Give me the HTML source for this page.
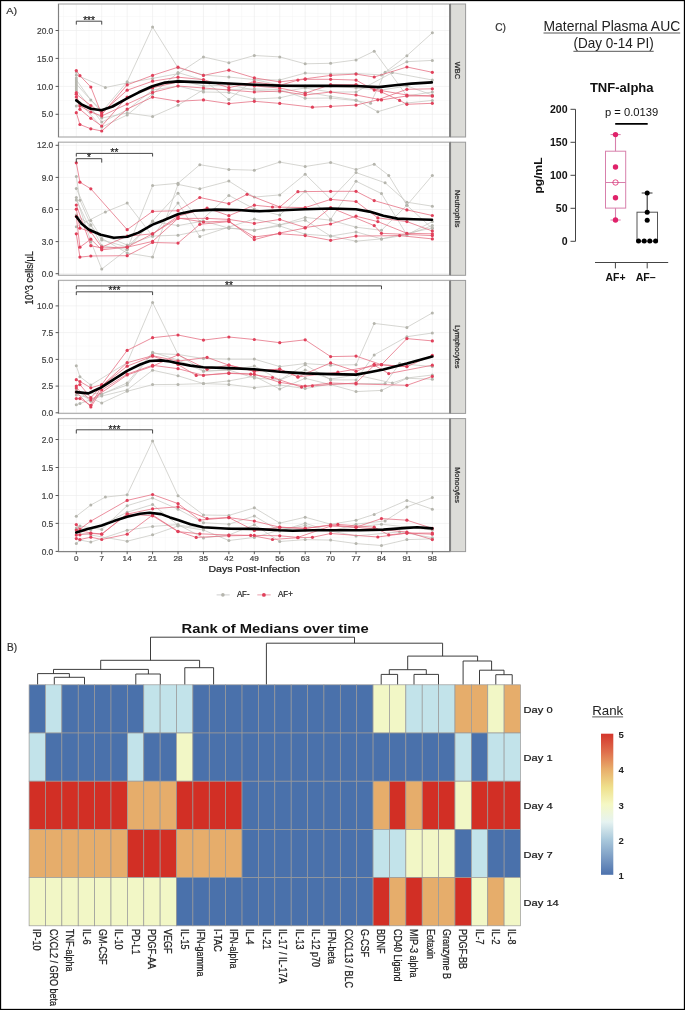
<!DOCTYPE html>
<html><head><meta charset="utf-8"><style>
html,body{margin:0;padding:0;background:#fff;}
svg{display:block;font-family:"Liberation Sans",sans-serif;will-change:transform;}
</style></head><body>
<svg width="685" height="1010" viewBox="0 0 685 1010">
<rect x="0" y="0" width="685" height="1010" fill="#fff"/>
<rect x="58.50" y="4.00" width="391.50" height="133.00" fill="#fff" stroke="none" stroke-width="1"/>
<line x1="58.50" y1="16.55" x2="450.00" y2="16.55" stroke="#f4f4f4" stroke-width="0.5"/>
<line x1="58.50" y1="44.45" x2="450.00" y2="44.45" stroke="#f4f4f4" stroke-width="0.5"/>
<line x1="58.50" y1="72.40" x2="450.00" y2="72.40" stroke="#f4f4f4" stroke-width="0.5"/>
<line x1="58.50" y1="100.35" x2="450.00" y2="100.35" stroke="#f4f4f4" stroke-width="0.5"/>
<line x1="58.50" y1="128.25" x2="450.00" y2="128.25" stroke="#f4f4f4" stroke-width="0.5"/>
<line x1="63.58" y1="4.00" x2="63.58" y2="137.00" stroke="#f4f4f4" stroke-width="0.5"/>
<line x1="89.02" y1="4.00" x2="89.02" y2="137.00" stroke="#f4f4f4" stroke-width="0.5"/>
<line x1="114.45" y1="4.00" x2="114.45" y2="137.00" stroke="#f4f4f4" stroke-width="0.5"/>
<line x1="139.88" y1="4.00" x2="139.88" y2="137.00" stroke="#f4f4f4" stroke-width="0.5"/>
<line x1="165.31" y1="4.00" x2="165.31" y2="137.00" stroke="#f4f4f4" stroke-width="0.5"/>
<line x1="190.74" y1="4.00" x2="190.74" y2="137.00" stroke="#f4f4f4" stroke-width="0.5"/>
<line x1="216.17" y1="4.00" x2="216.17" y2="137.00" stroke="#f4f4f4" stroke-width="0.5"/>
<line x1="241.60" y1="4.00" x2="241.60" y2="137.00" stroke="#f4f4f4" stroke-width="0.5"/>
<line x1="267.03" y1="4.00" x2="267.03" y2="137.00" stroke="#f4f4f4" stroke-width="0.5"/>
<line x1="292.46" y1="4.00" x2="292.46" y2="137.00" stroke="#f4f4f4" stroke-width="0.5"/>
<line x1="317.89" y1="4.00" x2="317.89" y2="137.00" stroke="#f4f4f4" stroke-width="0.5"/>
<line x1="343.33" y1="4.00" x2="343.33" y2="137.00" stroke="#f4f4f4" stroke-width="0.5"/>
<line x1="368.76" y1="4.00" x2="368.76" y2="137.00" stroke="#f4f4f4" stroke-width="0.5"/>
<line x1="394.19" y1="4.00" x2="394.19" y2="137.00" stroke="#f4f4f4" stroke-width="0.5"/>
<line x1="419.62" y1="4.00" x2="419.62" y2="137.00" stroke="#f4f4f4" stroke-width="0.5"/>
<line x1="445.05" y1="4.00" x2="445.05" y2="137.00" stroke="#f4f4f4" stroke-width="0.5"/>
<line x1="58.50" y1="30.50" x2="450.00" y2="30.50" stroke="#ebebeb" stroke-width="0.6"/>
<line x1="58.50" y1="58.40" x2="450.00" y2="58.40" stroke="#ebebeb" stroke-width="0.6"/>
<line x1="58.50" y1="86.40" x2="450.00" y2="86.40" stroke="#ebebeb" stroke-width="0.6"/>
<line x1="58.50" y1="114.30" x2="450.00" y2="114.30" stroke="#ebebeb" stroke-width="0.6"/>
<line x1="76.30" y1="4.00" x2="76.30" y2="137.00" stroke="#ebebeb" stroke-width="0.6"/>
<line x1="101.73" y1="4.00" x2="101.73" y2="137.00" stroke="#ebebeb" stroke-width="0.6"/>
<line x1="127.16" y1="4.00" x2="127.16" y2="137.00" stroke="#ebebeb" stroke-width="0.6"/>
<line x1="152.59" y1="4.00" x2="152.59" y2="137.00" stroke="#ebebeb" stroke-width="0.6"/>
<line x1="178.02" y1="4.00" x2="178.02" y2="137.00" stroke="#ebebeb" stroke-width="0.6"/>
<line x1="203.45" y1="4.00" x2="203.45" y2="137.00" stroke="#ebebeb" stroke-width="0.6"/>
<line x1="228.89" y1="4.00" x2="228.89" y2="137.00" stroke="#ebebeb" stroke-width="0.6"/>
<line x1="254.32" y1="4.00" x2="254.32" y2="137.00" stroke="#ebebeb" stroke-width="0.6"/>
<line x1="279.75" y1="4.00" x2="279.75" y2="137.00" stroke="#ebebeb" stroke-width="0.6"/>
<line x1="305.18" y1="4.00" x2="305.18" y2="137.00" stroke="#ebebeb" stroke-width="0.6"/>
<line x1="330.61" y1="4.00" x2="330.61" y2="137.00" stroke="#ebebeb" stroke-width="0.6"/>
<line x1="356.04" y1="4.00" x2="356.04" y2="137.00" stroke="#ebebeb" stroke-width="0.6"/>
<line x1="381.47" y1="4.00" x2="381.47" y2="137.00" stroke="#ebebeb" stroke-width="0.6"/>
<line x1="406.90" y1="4.00" x2="406.90" y2="137.00" stroke="#ebebeb" stroke-width="0.6"/>
<line x1="432.33" y1="4.00" x2="432.33" y2="137.00" stroke="#ebebeb" stroke-width="0.6"/>
<g>
<polyline points="76.30,84.00 101.73,112.00 127.16,81.80 152.59,27.00 178.02,67.80 203.45,75.00 228.89,77.00 254.32,79.60 279.75,80.00 305.18,73.10 330.61,74.00 356.04,73.50 381.47,74.90 406.90,61.70 432.33,60.40" fill="none" stroke="#c4c4be" stroke-width="0.7" stroke-linejoin="round"/>
<polyline points="76.30,75.00 105.36,87.50 127.16,83.00 152.59,78.40 178.02,73.70 203.45,56.90 228.89,62.70 254.32,55.50 279.75,56.90 305.18,63.80 330.61,63.30 356.04,59.90 374.21,51.20 406.90,95.90 432.33,92.00" fill="none" stroke="#c4c4be" stroke-width="0.7" stroke-linejoin="round"/>
<polyline points="76.30,100.00 101.73,118.00 127.16,113.00 152.59,116.50 178.02,105.30 203.45,89.60 228.89,89.60 254.32,88.90 279.75,89.60 305.18,98.30 330.61,98.00 356.04,100.60 370.57,103.30 385.11,72.30 406.90,55.70 432.33,32.80" fill="none" stroke="#c4c4be" stroke-width="0.7" stroke-linejoin="round"/>
<polyline points="76.30,90.00 90.83,108.00 101.73,122.00 127.16,110.00 152.59,90.00 178.02,86.10 203.45,92.00 228.89,92.40 254.32,99.00 279.75,97.80 305.18,92.00 330.61,96.40 356.04,99.90 377.84,111.70 406.90,103.00 432.33,100.40" fill="none" stroke="#c4c4be" stroke-width="0.7" stroke-linejoin="round"/>
<polyline points="76.30,106.00 79.93,103.00 101.73,127.00 127.16,115.00 152.59,94.00 178.02,72.60 203.45,80.00 228.89,99.40 254.32,79.60 279.75,85.00 305.18,86.00 330.61,86.00 356.04,88.00 381.47,90.00 406.90,86.00 432.33,95.00" fill="none" stroke="#c4c4be" stroke-width="0.7" stroke-linejoin="round"/>
<polyline points="76.30,80.00 90.83,100.00 101.73,110.00 127.16,98.00 152.59,88.00 178.02,80.00 203.45,86.00 228.89,85.00 254.32,90.00 279.75,92.00 305.18,88.00 330.61,92.00 356.04,92.00 392.37,72.60 432.33,80.00" fill="none" stroke="#c4c4be" stroke-width="0.7" stroke-linejoin="round"/>
<polyline points="76.30,72.00 76.30,78.00 76.30,82.00 76.30,86.00 76.30,88.00" fill="none" stroke="#c4c4be" stroke-width="0.7" stroke-linejoin="round"/>
<circle cx="76.30" cy="84.00" r="1.5" fill="#b5b5ad"/>
<circle cx="101.73" cy="112.00" r="1.5" fill="#b5b5ad"/>
<circle cx="127.16" cy="81.80" r="1.5" fill="#b5b5ad"/>
<circle cx="152.59" cy="27.00" r="1.5" fill="#b5b5ad"/>
<circle cx="178.02" cy="67.80" r="1.5" fill="#b5b5ad"/>
<circle cx="203.45" cy="75.00" r="1.5" fill="#b5b5ad"/>
<circle cx="228.89" cy="77.00" r="1.5" fill="#b5b5ad"/>
<circle cx="254.32" cy="79.60" r="1.5" fill="#b5b5ad"/>
<circle cx="279.75" cy="80.00" r="1.5" fill="#b5b5ad"/>
<circle cx="305.18" cy="73.10" r="1.5" fill="#b5b5ad"/>
<circle cx="330.61" cy="74.00" r="1.5" fill="#b5b5ad"/>
<circle cx="356.04" cy="73.50" r="1.5" fill="#b5b5ad"/>
<circle cx="381.47" cy="74.90" r="1.5" fill="#b5b5ad"/>
<circle cx="406.90" cy="61.70" r="1.5" fill="#b5b5ad"/>
<circle cx="432.33" cy="60.40" r="1.5" fill="#b5b5ad"/>
<circle cx="76.30" cy="75.00" r="1.5" fill="#b5b5ad"/>
<circle cx="105.36" cy="87.50" r="1.5" fill="#b5b5ad"/>
<circle cx="127.16" cy="83.00" r="1.5" fill="#b5b5ad"/>
<circle cx="152.59" cy="78.40" r="1.5" fill="#b5b5ad"/>
<circle cx="178.02" cy="73.70" r="1.5" fill="#b5b5ad"/>
<circle cx="203.45" cy="56.90" r="1.5" fill="#b5b5ad"/>
<circle cx="228.89" cy="62.70" r="1.5" fill="#b5b5ad"/>
<circle cx="254.32" cy="55.50" r="1.5" fill="#b5b5ad"/>
<circle cx="279.75" cy="56.90" r="1.5" fill="#b5b5ad"/>
<circle cx="305.18" cy="63.80" r="1.5" fill="#b5b5ad"/>
<circle cx="330.61" cy="63.30" r="1.5" fill="#b5b5ad"/>
<circle cx="356.04" cy="59.90" r="1.5" fill="#b5b5ad"/>
<circle cx="374.21" cy="51.20" r="1.5" fill="#b5b5ad"/>
<circle cx="406.90" cy="95.90" r="1.5" fill="#b5b5ad"/>
<circle cx="432.33" cy="92.00" r="1.5" fill="#b5b5ad"/>
<circle cx="76.30" cy="100.00" r="1.5" fill="#b5b5ad"/>
<circle cx="101.73" cy="118.00" r="1.5" fill="#b5b5ad"/>
<circle cx="127.16" cy="113.00" r="1.5" fill="#b5b5ad"/>
<circle cx="152.59" cy="116.50" r="1.5" fill="#b5b5ad"/>
<circle cx="178.02" cy="105.30" r="1.5" fill="#b5b5ad"/>
<circle cx="203.45" cy="89.60" r="1.5" fill="#b5b5ad"/>
<circle cx="228.89" cy="89.60" r="1.5" fill="#b5b5ad"/>
<circle cx="254.32" cy="88.90" r="1.5" fill="#b5b5ad"/>
<circle cx="279.75" cy="89.60" r="1.5" fill="#b5b5ad"/>
<circle cx="305.18" cy="98.30" r="1.5" fill="#b5b5ad"/>
<circle cx="330.61" cy="98.00" r="1.5" fill="#b5b5ad"/>
<circle cx="356.04" cy="100.60" r="1.5" fill="#b5b5ad"/>
<circle cx="370.57" cy="103.30" r="1.5" fill="#b5b5ad"/>
<circle cx="385.11" cy="72.30" r="1.5" fill="#b5b5ad"/>
<circle cx="406.90" cy="55.70" r="1.5" fill="#b5b5ad"/>
<circle cx="432.33" cy="32.80" r="1.5" fill="#b5b5ad"/>
<circle cx="76.30" cy="90.00" r="1.5" fill="#b5b5ad"/>
<circle cx="90.83" cy="108.00" r="1.5" fill="#b5b5ad"/>
<circle cx="101.73" cy="122.00" r="1.5" fill="#b5b5ad"/>
<circle cx="127.16" cy="110.00" r="1.5" fill="#b5b5ad"/>
<circle cx="152.59" cy="90.00" r="1.5" fill="#b5b5ad"/>
<circle cx="178.02" cy="86.10" r="1.5" fill="#b5b5ad"/>
<circle cx="203.45" cy="92.00" r="1.5" fill="#b5b5ad"/>
<circle cx="228.89" cy="92.40" r="1.5" fill="#b5b5ad"/>
<circle cx="254.32" cy="99.00" r="1.5" fill="#b5b5ad"/>
<circle cx="279.75" cy="97.80" r="1.5" fill="#b5b5ad"/>
<circle cx="305.18" cy="92.00" r="1.5" fill="#b5b5ad"/>
<circle cx="330.61" cy="96.40" r="1.5" fill="#b5b5ad"/>
<circle cx="356.04" cy="99.90" r="1.5" fill="#b5b5ad"/>
<circle cx="377.84" cy="111.70" r="1.5" fill="#b5b5ad"/>
<circle cx="406.90" cy="103.00" r="1.5" fill="#b5b5ad"/>
<circle cx="432.33" cy="100.40" r="1.5" fill="#b5b5ad"/>
<circle cx="76.30" cy="106.00" r="1.5" fill="#b5b5ad"/>
<circle cx="79.93" cy="103.00" r="1.5" fill="#b5b5ad"/>
<circle cx="101.73" cy="127.00" r="1.5" fill="#b5b5ad"/>
<circle cx="127.16" cy="115.00" r="1.5" fill="#b5b5ad"/>
<circle cx="152.59" cy="94.00" r="1.5" fill="#b5b5ad"/>
<circle cx="178.02" cy="72.60" r="1.5" fill="#b5b5ad"/>
<circle cx="203.45" cy="80.00" r="1.5" fill="#b5b5ad"/>
<circle cx="228.89" cy="99.40" r="1.5" fill="#b5b5ad"/>
<circle cx="254.32" cy="79.60" r="1.5" fill="#b5b5ad"/>
<circle cx="279.75" cy="85.00" r="1.5" fill="#b5b5ad"/>
<circle cx="305.18" cy="86.00" r="1.5" fill="#b5b5ad"/>
<circle cx="330.61" cy="86.00" r="1.5" fill="#b5b5ad"/>
<circle cx="356.04" cy="88.00" r="1.5" fill="#b5b5ad"/>
<circle cx="381.47" cy="90.00" r="1.5" fill="#b5b5ad"/>
<circle cx="406.90" cy="86.00" r="1.5" fill="#b5b5ad"/>
<circle cx="432.33" cy="95.00" r="1.5" fill="#b5b5ad"/>
<circle cx="76.30" cy="80.00" r="1.5" fill="#b5b5ad"/>
<circle cx="90.83" cy="100.00" r="1.5" fill="#b5b5ad"/>
<circle cx="101.73" cy="110.00" r="1.5" fill="#b5b5ad"/>
<circle cx="127.16" cy="98.00" r="1.5" fill="#b5b5ad"/>
<circle cx="152.59" cy="88.00" r="1.5" fill="#b5b5ad"/>
<circle cx="178.02" cy="80.00" r="1.5" fill="#b5b5ad"/>
<circle cx="203.45" cy="86.00" r="1.5" fill="#b5b5ad"/>
<circle cx="228.89" cy="85.00" r="1.5" fill="#b5b5ad"/>
<circle cx="254.32" cy="90.00" r="1.5" fill="#b5b5ad"/>
<circle cx="279.75" cy="92.00" r="1.5" fill="#b5b5ad"/>
<circle cx="305.18" cy="88.00" r="1.5" fill="#b5b5ad"/>
<circle cx="330.61" cy="92.00" r="1.5" fill="#b5b5ad"/>
<circle cx="356.04" cy="92.00" r="1.5" fill="#b5b5ad"/>
<circle cx="392.37" cy="72.60" r="1.5" fill="#b5b5ad"/>
<circle cx="432.33" cy="80.00" r="1.5" fill="#b5b5ad"/>
<circle cx="76.30" cy="72.00" r="1.5" fill="#b5b5ad"/>
<circle cx="76.30" cy="78.00" r="1.5" fill="#b5b5ad"/>
<circle cx="76.30" cy="82.00" r="1.5" fill="#b5b5ad"/>
<circle cx="76.30" cy="86.00" r="1.5" fill="#b5b5ad"/>
<circle cx="76.30" cy="88.00" r="1.5" fill="#b5b5ad"/>
<polyline points="76.30,70.60 79.93,75.70 90.83,87.00 101.73,114.60 127.16,84.90 152.59,75.40 178.02,67.20 203.45,75.40 228.89,70.20 254.32,77.90 279.75,81.90 305.18,78.80 330.61,75.40 356.04,74.10 374.21,77.00 406.90,67.00 432.33,72.30" fill="none" stroke="#e46a7e" stroke-width="0.75" stroke-linejoin="round"/>
<polyline points="76.30,94.20 90.83,105.50 101.73,112.70 127.16,90.20 152.59,81.20 178.02,77.20 203.45,79.60 228.89,87.70 254.32,81.90 279.75,85.40 297.91,80.10 305.18,79.30 330.61,79.30 356.04,80.10 374.21,90.10 381.47,92.00 399.64,100.40 406.90,104.30 432.33,103.30" fill="none" stroke="#e46a7e" stroke-width="0.75" stroke-linejoin="round"/>
<polyline points="76.30,92.70 79.93,109.30 90.83,118.30 101.73,126.00 127.16,97.00 152.59,87.70 178.02,82.00 203.45,82.00 228.89,84.00 254.32,86.00 279.75,88.00 305.18,93.30 330.61,84.60 356.04,84.60 381.47,90.60 406.90,95.00 432.33,96.00" fill="none" stroke="#e46a7e" stroke-width="0.75" stroke-linejoin="round"/>
<polyline points="76.30,112.70 79.93,124.50 90.83,128.80 101.73,131.00 127.16,109.10 152.59,97.10 178.02,101.30 203.45,99.90 228.89,103.60 254.32,101.30 279.75,103.40 312.44,107.20 330.61,106.40 356.04,105.10 377.84,99.80 406.90,89.30 432.33,88.80" fill="none" stroke="#e46a7e" stroke-width="0.75" stroke-linejoin="round"/>
<polyline points="76.30,97.00 79.93,106.00 90.83,112.00 101.73,116.00 127.16,104.10 152.59,92.40 178.02,86.00 203.45,88.00 228.89,90.00 254.32,92.00 279.75,91.00 305.18,95.00 330.61,92.00 356.04,95.00 381.47,99.90 406.90,96.00 432.33,95.90" fill="none" stroke="#e46a7e" stroke-width="0.75" stroke-linejoin="round"/>
<circle cx="76.30" cy="70.60" r="1.6" fill="#e0405a"/>
<circle cx="79.93" cy="75.70" r="1.6" fill="#e0405a"/>
<circle cx="90.83" cy="87.00" r="1.6" fill="#e0405a"/>
<circle cx="101.73" cy="114.60" r="1.6" fill="#e0405a"/>
<circle cx="127.16" cy="84.90" r="1.6" fill="#e0405a"/>
<circle cx="152.59" cy="75.40" r="1.6" fill="#e0405a"/>
<circle cx="178.02" cy="67.20" r="1.6" fill="#e0405a"/>
<circle cx="203.45" cy="75.40" r="1.6" fill="#e0405a"/>
<circle cx="228.89" cy="70.20" r="1.6" fill="#e0405a"/>
<circle cx="254.32" cy="77.90" r="1.6" fill="#e0405a"/>
<circle cx="279.75" cy="81.90" r="1.6" fill="#e0405a"/>
<circle cx="305.18" cy="78.80" r="1.6" fill="#e0405a"/>
<circle cx="330.61" cy="75.40" r="1.6" fill="#e0405a"/>
<circle cx="356.04" cy="74.10" r="1.6" fill="#e0405a"/>
<circle cx="374.21" cy="77.00" r="1.6" fill="#e0405a"/>
<circle cx="406.90" cy="67.00" r="1.6" fill="#e0405a"/>
<circle cx="432.33" cy="72.30" r="1.6" fill="#e0405a"/>
<circle cx="76.30" cy="94.20" r="1.6" fill="#e0405a"/>
<circle cx="90.83" cy="105.50" r="1.6" fill="#e0405a"/>
<circle cx="101.73" cy="112.70" r="1.6" fill="#e0405a"/>
<circle cx="127.16" cy="90.20" r="1.6" fill="#e0405a"/>
<circle cx="152.59" cy="81.20" r="1.6" fill="#e0405a"/>
<circle cx="178.02" cy="77.20" r="1.6" fill="#e0405a"/>
<circle cx="203.45" cy="79.60" r="1.6" fill="#e0405a"/>
<circle cx="228.89" cy="87.70" r="1.6" fill="#e0405a"/>
<circle cx="254.32" cy="81.90" r="1.6" fill="#e0405a"/>
<circle cx="279.75" cy="85.40" r="1.6" fill="#e0405a"/>
<circle cx="297.91" cy="80.10" r="1.6" fill="#e0405a"/>
<circle cx="305.18" cy="79.30" r="1.6" fill="#e0405a"/>
<circle cx="330.61" cy="79.30" r="1.6" fill="#e0405a"/>
<circle cx="356.04" cy="80.10" r="1.6" fill="#e0405a"/>
<circle cx="374.21" cy="90.10" r="1.6" fill="#e0405a"/>
<circle cx="381.47" cy="92.00" r="1.6" fill="#e0405a"/>
<circle cx="399.64" cy="100.40" r="1.6" fill="#e0405a"/>
<circle cx="406.90" cy="104.30" r="1.6" fill="#e0405a"/>
<circle cx="432.33" cy="103.30" r="1.6" fill="#e0405a"/>
<circle cx="76.30" cy="92.70" r="1.6" fill="#e0405a"/>
<circle cx="79.93" cy="109.30" r="1.6" fill="#e0405a"/>
<circle cx="90.83" cy="118.30" r="1.6" fill="#e0405a"/>
<circle cx="101.73" cy="126.00" r="1.6" fill="#e0405a"/>
<circle cx="127.16" cy="97.00" r="1.6" fill="#e0405a"/>
<circle cx="152.59" cy="87.70" r="1.6" fill="#e0405a"/>
<circle cx="178.02" cy="82.00" r="1.6" fill="#e0405a"/>
<circle cx="203.45" cy="82.00" r="1.6" fill="#e0405a"/>
<circle cx="228.89" cy="84.00" r="1.6" fill="#e0405a"/>
<circle cx="254.32" cy="86.00" r="1.6" fill="#e0405a"/>
<circle cx="279.75" cy="88.00" r="1.6" fill="#e0405a"/>
<circle cx="305.18" cy="93.30" r="1.6" fill="#e0405a"/>
<circle cx="330.61" cy="84.60" r="1.6" fill="#e0405a"/>
<circle cx="356.04" cy="84.60" r="1.6" fill="#e0405a"/>
<circle cx="381.47" cy="90.60" r="1.6" fill="#e0405a"/>
<circle cx="406.90" cy="95.00" r="1.6" fill="#e0405a"/>
<circle cx="432.33" cy="96.00" r="1.6" fill="#e0405a"/>
<circle cx="76.30" cy="112.70" r="1.6" fill="#e0405a"/>
<circle cx="79.93" cy="124.50" r="1.6" fill="#e0405a"/>
<circle cx="90.83" cy="128.80" r="1.6" fill="#e0405a"/>
<circle cx="101.73" cy="131.00" r="1.6" fill="#e0405a"/>
<circle cx="127.16" cy="109.10" r="1.6" fill="#e0405a"/>
<circle cx="152.59" cy="97.10" r="1.6" fill="#e0405a"/>
<circle cx="178.02" cy="101.30" r="1.6" fill="#e0405a"/>
<circle cx="203.45" cy="99.90" r="1.6" fill="#e0405a"/>
<circle cx="228.89" cy="103.60" r="1.6" fill="#e0405a"/>
<circle cx="254.32" cy="101.30" r="1.6" fill="#e0405a"/>
<circle cx="279.75" cy="103.40" r="1.6" fill="#e0405a"/>
<circle cx="312.44" cy="107.20" r="1.6" fill="#e0405a"/>
<circle cx="330.61" cy="106.40" r="1.6" fill="#e0405a"/>
<circle cx="356.04" cy="105.10" r="1.6" fill="#e0405a"/>
<circle cx="377.84" cy="99.80" r="1.6" fill="#e0405a"/>
<circle cx="406.90" cy="89.30" r="1.6" fill="#e0405a"/>
<circle cx="432.33" cy="88.80" r="1.6" fill="#e0405a"/>
<circle cx="76.30" cy="97.00" r="1.6" fill="#e0405a"/>
<circle cx="79.93" cy="106.00" r="1.6" fill="#e0405a"/>
<circle cx="90.83" cy="112.00" r="1.6" fill="#e0405a"/>
<circle cx="101.73" cy="116.00" r="1.6" fill="#e0405a"/>
<circle cx="127.16" cy="104.10" r="1.6" fill="#e0405a"/>
<circle cx="152.59" cy="92.40" r="1.6" fill="#e0405a"/>
<circle cx="178.02" cy="86.00" r="1.6" fill="#e0405a"/>
<circle cx="203.45" cy="88.00" r="1.6" fill="#e0405a"/>
<circle cx="228.89" cy="90.00" r="1.6" fill="#e0405a"/>
<circle cx="254.32" cy="92.00" r="1.6" fill="#e0405a"/>
<circle cx="279.75" cy="91.00" r="1.6" fill="#e0405a"/>
<circle cx="305.18" cy="95.00" r="1.6" fill="#e0405a"/>
<circle cx="330.61" cy="92.00" r="1.6" fill="#e0405a"/>
<circle cx="356.04" cy="95.00" r="1.6" fill="#e0405a"/>
<circle cx="381.47" cy="99.90" r="1.6" fill="#e0405a"/>
<circle cx="406.90" cy="96.00" r="1.6" fill="#e0405a"/>
<circle cx="432.33" cy="95.90" r="1.6" fill="#e0405a"/>
<path d="M76.30,100.40 L82.00,104.80 L90.70,108.80 L101.50,110.30 L112.60,106.50 L127.10,98.40 L138.80,92.30 L152.30,86.20 L165.10,82.60 L178.00,81.40 L203.40,82.40 L228.80,83.50 L254.30,84.70 L279.70,85.60 L305.00,85.90 L330.00,85.90 L355.40,86.00 L378.80,87.10 L395.00,85.20 L411.50,83.60 L431.80,82.40" fill="none" stroke="#000" stroke-width="2.6" stroke-linejoin="round" stroke-linecap="round"/>
</g>
<rect x="58.50" y="4.00" width="391.50" height="133.00" fill="none" stroke="#b4b4b4" stroke-width="1.3"/>
<line x1="58.50" y1="4.00" x2="58.50" y2="137.00" stroke="#7a7a7a" stroke-width="0.9"/>
<rect x="450.60" y="4.00" width="15.00" height="133.00" fill="#dcdcd8" stroke="#9a9a9a" stroke-width="1.0"/>
<line x1="450.00" y1="4.00" x2="450.00" y2="137.00" stroke="#808080" stroke-width="1.9"/>
<text transform="translate(455.30,61.87) scale(1.0,1) rotate(90)" font-size="7.4" text-anchor="start" fill="#2a2a2a" stroke="#2a2a2a" stroke-width="0.22">WBC</text>
<line x1="55.60" y1="30.50" x2="58.50" y2="30.50" stroke="#444" stroke-width="0.9"/>
<text x="53.30" y="33.60" font-size="8.3" text-anchor="end" fill="#444" stroke="#444" stroke-width="0.22" textLength="16.32" lengthAdjust="spacingAndGlyphs">20.0</text>
<line x1="55.60" y1="58.40" x2="58.50" y2="58.40" stroke="#444" stroke-width="0.9"/>
<text x="53.30" y="61.50" font-size="8.3" text-anchor="end" fill="#444" stroke="#444" stroke-width="0.22" textLength="16.32" lengthAdjust="spacingAndGlyphs">15.0</text>
<line x1="55.60" y1="86.40" x2="58.50" y2="86.40" stroke="#444" stroke-width="0.9"/>
<text x="53.30" y="89.50" font-size="8.3" text-anchor="end" fill="#444" stroke="#444" stroke-width="0.22" textLength="16.32" lengthAdjust="spacingAndGlyphs">10.0</text>
<line x1="55.60" y1="114.30" x2="58.50" y2="114.30" stroke="#444" stroke-width="0.9"/>
<text x="53.30" y="117.40" font-size="8.3" text-anchor="end" fill="#444" stroke="#444" stroke-width="0.22" textLength="11.65" lengthAdjust="spacingAndGlyphs">5.0</text>
<rect x="58.50" y="142.20" width="391.50" height="133.10" fill="#fff" stroke="none" stroke-width="1"/>
<line x1="58.50" y1="161.35" x2="450.00" y2="161.35" stroke="#f4f4f4" stroke-width="0.5"/>
<line x1="58.50" y1="193.45" x2="450.00" y2="193.45" stroke="#f4f4f4" stroke-width="0.5"/>
<line x1="58.50" y1="225.55" x2="450.00" y2="225.55" stroke="#f4f4f4" stroke-width="0.5"/>
<line x1="58.50" y1="257.65" x2="450.00" y2="257.65" stroke="#f4f4f4" stroke-width="0.5"/>
<line x1="63.58" y1="142.20" x2="63.58" y2="275.30" stroke="#f4f4f4" stroke-width="0.5"/>
<line x1="89.02" y1="142.20" x2="89.02" y2="275.30" stroke="#f4f4f4" stroke-width="0.5"/>
<line x1="114.45" y1="142.20" x2="114.45" y2="275.30" stroke="#f4f4f4" stroke-width="0.5"/>
<line x1="139.88" y1="142.20" x2="139.88" y2="275.30" stroke="#f4f4f4" stroke-width="0.5"/>
<line x1="165.31" y1="142.20" x2="165.31" y2="275.30" stroke="#f4f4f4" stroke-width="0.5"/>
<line x1="190.74" y1="142.20" x2="190.74" y2="275.30" stroke="#f4f4f4" stroke-width="0.5"/>
<line x1="216.17" y1="142.20" x2="216.17" y2="275.30" stroke="#f4f4f4" stroke-width="0.5"/>
<line x1="241.60" y1="142.20" x2="241.60" y2="275.30" stroke="#f4f4f4" stroke-width="0.5"/>
<line x1="267.03" y1="142.20" x2="267.03" y2="275.30" stroke="#f4f4f4" stroke-width="0.5"/>
<line x1="292.46" y1="142.20" x2="292.46" y2="275.30" stroke="#f4f4f4" stroke-width="0.5"/>
<line x1="317.89" y1="142.20" x2="317.89" y2="275.30" stroke="#f4f4f4" stroke-width="0.5"/>
<line x1="343.33" y1="142.20" x2="343.33" y2="275.30" stroke="#f4f4f4" stroke-width="0.5"/>
<line x1="368.76" y1="142.20" x2="368.76" y2="275.30" stroke="#f4f4f4" stroke-width="0.5"/>
<line x1="394.19" y1="142.20" x2="394.19" y2="275.30" stroke="#f4f4f4" stroke-width="0.5"/>
<line x1="419.62" y1="142.20" x2="419.62" y2="275.30" stroke="#f4f4f4" stroke-width="0.5"/>
<line x1="445.05" y1="142.20" x2="445.05" y2="275.30" stroke="#f4f4f4" stroke-width="0.5"/>
<line x1="58.50" y1="145.30" x2="450.00" y2="145.30" stroke="#ebebeb" stroke-width="0.6"/>
<line x1="58.50" y1="177.40" x2="450.00" y2="177.40" stroke="#ebebeb" stroke-width="0.6"/>
<line x1="58.50" y1="209.50" x2="450.00" y2="209.50" stroke="#ebebeb" stroke-width="0.6"/>
<line x1="58.50" y1="241.60" x2="450.00" y2="241.60" stroke="#ebebeb" stroke-width="0.6"/>
<line x1="58.50" y1="273.70" x2="450.00" y2="273.70" stroke="#ebebeb" stroke-width="0.6"/>
<line x1="76.30" y1="142.20" x2="76.30" y2="275.30" stroke="#ebebeb" stroke-width="0.6"/>
<line x1="101.73" y1="142.20" x2="101.73" y2="275.30" stroke="#ebebeb" stroke-width="0.6"/>
<line x1="127.16" y1="142.20" x2="127.16" y2="275.30" stroke="#ebebeb" stroke-width="0.6"/>
<line x1="152.59" y1="142.20" x2="152.59" y2="275.30" stroke="#ebebeb" stroke-width="0.6"/>
<line x1="178.02" y1="142.20" x2="178.02" y2="275.30" stroke="#ebebeb" stroke-width="0.6"/>
<line x1="203.45" y1="142.20" x2="203.45" y2="275.30" stroke="#ebebeb" stroke-width="0.6"/>
<line x1="228.89" y1="142.20" x2="228.89" y2="275.30" stroke="#ebebeb" stroke-width="0.6"/>
<line x1="254.32" y1="142.20" x2="254.32" y2="275.30" stroke="#ebebeb" stroke-width="0.6"/>
<line x1="279.75" y1="142.20" x2="279.75" y2="275.30" stroke="#ebebeb" stroke-width="0.6"/>
<line x1="305.18" y1="142.20" x2="305.18" y2="275.30" stroke="#ebebeb" stroke-width="0.6"/>
<line x1="330.61" y1="142.20" x2="330.61" y2="275.30" stroke="#ebebeb" stroke-width="0.6"/>
<line x1="356.04" y1="142.20" x2="356.04" y2="275.30" stroke="#ebebeb" stroke-width="0.6"/>
<line x1="381.47" y1="142.20" x2="381.47" y2="275.30" stroke="#ebebeb" stroke-width="0.6"/>
<line x1="406.90" y1="142.20" x2="406.90" y2="275.30" stroke="#ebebeb" stroke-width="0.6"/>
<line x1="432.33" y1="142.20" x2="432.33" y2="275.30" stroke="#ebebeb" stroke-width="0.6"/>
<g>
<polyline points="76.30,176.40 79.93,200.20 90.83,225.00 101.73,245.70 127.16,249.40 152.59,185.60 178.02,183.30 199.82,164.70 228.89,169.50 254.32,170.20 279.75,162.10 305.18,166.50 330.61,162.50 356.04,169.50 374.21,164.20 388.74,175.40 406.90,205.30 432.33,175.40" fill="none" stroke="#c4c4be" stroke-width="0.7" stroke-linejoin="round"/>
<polyline points="76.30,188.50 90.83,220.60 101.73,238.40 127.16,253.00 152.59,257.10 178.02,184.40 199.82,188.80 228.89,181.10 254.32,197.10 279.75,194.90 305.18,174.20 330.61,199.20 356.04,172.60 385.11,182.80 406.90,202.20 432.33,206.20" fill="none" stroke="#c4c4be" stroke-width="0.7" stroke-linejoin="round"/>
<polyline points="76.30,197.60 90.83,241.40 101.73,269.10 127.16,249.40 152.59,220.90 178.02,193.20 199.82,221.60 228.89,195.40 254.32,208.90 279.75,215.10 305.18,191.30 330.61,219.30 356.04,181.20 381.47,193.60 406.90,234.90 432.33,225.60" fill="none" stroke="#c4c4be" stroke-width="0.7" stroke-linejoin="round"/>
<polyline points="76.30,226.80 105.36,211.90 127.16,203.10 152.59,236.20 178.02,203.00 199.82,236.50 228.89,227.10 254.32,219.00 279.75,224.90 305.18,217.40 330.61,220.20 356.04,227.20 381.47,230.30 406.90,205.30 432.33,228.60" fill="none" stroke="#c4c4be" stroke-width="0.7" stroke-linejoin="round"/>
<polyline points="76.30,215.00 90.83,225.00 101.73,240.00 127.16,247.00 152.59,221.60 178.02,225.60 203.45,221.00 228.89,228.20 254.32,230.40 279.75,224.90 305.18,220.20 330.61,236.10 356.04,231.90 381.47,238.90 406.90,234.90 432.33,221.60" fill="none" stroke="#c4c4be" stroke-width="0.7" stroke-linejoin="round"/>
<polyline points="76.30,200.00 90.83,230.00 127.16,245.00 152.59,236.00 178.02,235.20 203.45,230.00 228.89,228.00 254.32,230.00 279.75,226.00 305.18,234.20 330.61,236.00 356.04,241.20 381.47,238.90 432.33,228.00" fill="none" stroke="#c4c4be" stroke-width="0.7" stroke-linejoin="round"/>
<circle cx="76.30" cy="176.40" r="1.5" fill="#b5b5ad"/>
<circle cx="79.93" cy="200.20" r="1.5" fill="#b5b5ad"/>
<circle cx="90.83" cy="225.00" r="1.5" fill="#b5b5ad"/>
<circle cx="101.73" cy="245.70" r="1.5" fill="#b5b5ad"/>
<circle cx="127.16" cy="249.40" r="1.5" fill="#b5b5ad"/>
<circle cx="152.59" cy="185.60" r="1.5" fill="#b5b5ad"/>
<circle cx="178.02" cy="183.30" r="1.5" fill="#b5b5ad"/>
<circle cx="199.82" cy="164.70" r="1.5" fill="#b5b5ad"/>
<circle cx="228.89" cy="169.50" r="1.5" fill="#b5b5ad"/>
<circle cx="254.32" cy="170.20" r="1.5" fill="#b5b5ad"/>
<circle cx="279.75" cy="162.10" r="1.5" fill="#b5b5ad"/>
<circle cx="305.18" cy="166.50" r="1.5" fill="#b5b5ad"/>
<circle cx="330.61" cy="162.50" r="1.5" fill="#b5b5ad"/>
<circle cx="356.04" cy="169.50" r="1.5" fill="#b5b5ad"/>
<circle cx="374.21" cy="164.20" r="1.5" fill="#b5b5ad"/>
<circle cx="388.74" cy="175.40" r="1.5" fill="#b5b5ad"/>
<circle cx="406.90" cy="205.30" r="1.5" fill="#b5b5ad"/>
<circle cx="432.33" cy="175.40" r="1.5" fill="#b5b5ad"/>
<circle cx="76.30" cy="188.50" r="1.5" fill="#b5b5ad"/>
<circle cx="90.83" cy="220.60" r="1.5" fill="#b5b5ad"/>
<circle cx="101.73" cy="238.40" r="1.5" fill="#b5b5ad"/>
<circle cx="127.16" cy="253.00" r="1.5" fill="#b5b5ad"/>
<circle cx="152.59" cy="257.10" r="1.5" fill="#b5b5ad"/>
<circle cx="178.02" cy="184.40" r="1.5" fill="#b5b5ad"/>
<circle cx="199.82" cy="188.80" r="1.5" fill="#b5b5ad"/>
<circle cx="228.89" cy="181.10" r="1.5" fill="#b5b5ad"/>
<circle cx="254.32" cy="197.10" r="1.5" fill="#b5b5ad"/>
<circle cx="279.75" cy="194.90" r="1.5" fill="#b5b5ad"/>
<circle cx="305.18" cy="174.20" r="1.5" fill="#b5b5ad"/>
<circle cx="330.61" cy="199.20" r="1.5" fill="#b5b5ad"/>
<circle cx="356.04" cy="172.60" r="1.5" fill="#b5b5ad"/>
<circle cx="385.11" cy="182.80" r="1.5" fill="#b5b5ad"/>
<circle cx="406.90" cy="202.20" r="1.5" fill="#b5b5ad"/>
<circle cx="432.33" cy="206.20" r="1.5" fill="#b5b5ad"/>
<circle cx="76.30" cy="197.60" r="1.5" fill="#b5b5ad"/>
<circle cx="90.83" cy="241.40" r="1.5" fill="#b5b5ad"/>
<circle cx="101.73" cy="269.10" r="1.5" fill="#b5b5ad"/>
<circle cx="127.16" cy="249.40" r="1.5" fill="#b5b5ad"/>
<circle cx="152.59" cy="220.90" r="1.5" fill="#b5b5ad"/>
<circle cx="178.02" cy="193.20" r="1.5" fill="#b5b5ad"/>
<circle cx="199.82" cy="221.60" r="1.5" fill="#b5b5ad"/>
<circle cx="228.89" cy="195.40" r="1.5" fill="#b5b5ad"/>
<circle cx="254.32" cy="208.90" r="1.5" fill="#b5b5ad"/>
<circle cx="279.75" cy="215.10" r="1.5" fill="#b5b5ad"/>
<circle cx="305.18" cy="191.30" r="1.5" fill="#b5b5ad"/>
<circle cx="330.61" cy="219.30" r="1.5" fill="#b5b5ad"/>
<circle cx="356.04" cy="181.20" r="1.5" fill="#b5b5ad"/>
<circle cx="381.47" cy="193.60" r="1.5" fill="#b5b5ad"/>
<circle cx="406.90" cy="234.90" r="1.5" fill="#b5b5ad"/>
<circle cx="432.33" cy="225.60" r="1.5" fill="#b5b5ad"/>
<circle cx="76.30" cy="226.80" r="1.5" fill="#b5b5ad"/>
<circle cx="105.36" cy="211.90" r="1.5" fill="#b5b5ad"/>
<circle cx="127.16" cy="203.10" r="1.5" fill="#b5b5ad"/>
<circle cx="152.59" cy="236.20" r="1.5" fill="#b5b5ad"/>
<circle cx="178.02" cy="203.00" r="1.5" fill="#b5b5ad"/>
<circle cx="199.82" cy="236.50" r="1.5" fill="#b5b5ad"/>
<circle cx="228.89" cy="227.10" r="1.5" fill="#b5b5ad"/>
<circle cx="254.32" cy="219.00" r="1.5" fill="#b5b5ad"/>
<circle cx="279.75" cy="224.90" r="1.5" fill="#b5b5ad"/>
<circle cx="305.18" cy="217.40" r="1.5" fill="#b5b5ad"/>
<circle cx="330.61" cy="220.20" r="1.5" fill="#b5b5ad"/>
<circle cx="356.04" cy="227.20" r="1.5" fill="#b5b5ad"/>
<circle cx="381.47" cy="230.30" r="1.5" fill="#b5b5ad"/>
<circle cx="406.90" cy="205.30" r="1.5" fill="#b5b5ad"/>
<circle cx="432.33" cy="228.60" r="1.5" fill="#b5b5ad"/>
<circle cx="76.30" cy="215.00" r="1.5" fill="#b5b5ad"/>
<circle cx="90.83" cy="225.00" r="1.5" fill="#b5b5ad"/>
<circle cx="101.73" cy="240.00" r="1.5" fill="#b5b5ad"/>
<circle cx="127.16" cy="247.00" r="1.5" fill="#b5b5ad"/>
<circle cx="152.59" cy="221.60" r="1.5" fill="#b5b5ad"/>
<circle cx="178.02" cy="225.60" r="1.5" fill="#b5b5ad"/>
<circle cx="203.45" cy="221.00" r="1.5" fill="#b5b5ad"/>
<circle cx="228.89" cy="228.20" r="1.5" fill="#b5b5ad"/>
<circle cx="254.32" cy="230.40" r="1.5" fill="#b5b5ad"/>
<circle cx="279.75" cy="224.90" r="1.5" fill="#b5b5ad"/>
<circle cx="305.18" cy="220.20" r="1.5" fill="#b5b5ad"/>
<circle cx="330.61" cy="236.10" r="1.5" fill="#b5b5ad"/>
<circle cx="356.04" cy="231.90" r="1.5" fill="#b5b5ad"/>
<circle cx="381.47" cy="238.90" r="1.5" fill="#b5b5ad"/>
<circle cx="406.90" cy="234.90" r="1.5" fill="#b5b5ad"/>
<circle cx="432.33" cy="221.60" r="1.5" fill="#b5b5ad"/>
<circle cx="76.30" cy="200.00" r="1.5" fill="#b5b5ad"/>
<circle cx="90.83" cy="230.00" r="1.5" fill="#b5b5ad"/>
<circle cx="127.16" cy="245.00" r="1.5" fill="#b5b5ad"/>
<circle cx="152.59" cy="236.00" r="1.5" fill="#b5b5ad"/>
<circle cx="178.02" cy="235.20" r="1.5" fill="#b5b5ad"/>
<circle cx="203.45" cy="230.00" r="1.5" fill="#b5b5ad"/>
<circle cx="228.89" cy="228.00" r="1.5" fill="#b5b5ad"/>
<circle cx="254.32" cy="230.00" r="1.5" fill="#b5b5ad"/>
<circle cx="279.75" cy="226.00" r="1.5" fill="#b5b5ad"/>
<circle cx="305.18" cy="234.20" r="1.5" fill="#b5b5ad"/>
<circle cx="330.61" cy="236.00" r="1.5" fill="#b5b5ad"/>
<circle cx="356.04" cy="241.20" r="1.5" fill="#b5b5ad"/>
<circle cx="381.47" cy="238.90" r="1.5" fill="#b5b5ad"/>
<circle cx="432.33" cy="228.00" r="1.5" fill="#b5b5ad"/>
<polyline points="76.30,162.80 79.93,182.20 90.83,188.80 127.16,229.70 152.59,211.40 178.02,210.70 199.82,197.50 228.89,203.70 247.05,194.30 279.75,207.00 297.91,191.70 330.61,191.30 356.04,191.30 374.21,200.60 406.90,209.90 432.33,215.50" fill="none" stroke="#e46a7e" stroke-width="0.75" stroke-linejoin="round"/>
<polyline points="76.30,209.20 79.93,228.20 90.83,231.90 101.73,247.20 127.16,236.20 152.59,233.80 178.02,216.20 207.09,208.10 228.89,215.70 254.32,205.20 272.48,207.00 305.18,207.60 330.61,199.40 356.04,201.50 377.84,217.90 406.90,221.60 432.33,231.00" fill="none" stroke="#e46a7e" stroke-width="0.75" stroke-linejoin="round"/>
<polyline points="76.30,216.50 79.93,247.20 90.83,239.20 101.73,249.80 127.16,247.20 152.59,241.40 178.02,218.40 207.09,218.40 228.89,219.40 254.32,223.40 279.75,219.40 305.18,227.50 330.61,224.00 356.04,216.20 377.84,221.60 406.90,233.30 432.33,233.80" fill="none" stroke="#e46a7e" stroke-width="0.75" stroke-linejoin="round"/>
<polyline points="76.30,233.80 79.93,257.10 90.83,256.00 127.16,255.70 152.59,242.50 178.02,243.10 199.82,224.30 228.89,221.60 254.32,237.00 279.75,233.70 305.18,235.60 330.61,240.30 356.04,236.10 399.64,235.60 432.33,238.90" fill="none" stroke="#e46a7e" stroke-width="0.75" stroke-linejoin="round"/>
<polyline points="76.30,205.00 90.83,245.70 101.73,248.00 127.16,247.00 152.59,233.80 178.02,218.00 203.45,222.00 228.89,221.00 254.32,239.60 279.75,233.00 305.18,228.00 330.61,207.60 374.21,225.60 381.47,233.30 432.33,235.60" fill="none" stroke="#e46a7e" stroke-width="0.75" stroke-linejoin="round"/>
<circle cx="76.30" cy="162.80" r="1.6" fill="#e0405a"/>
<circle cx="79.93" cy="182.20" r="1.6" fill="#e0405a"/>
<circle cx="90.83" cy="188.80" r="1.6" fill="#e0405a"/>
<circle cx="127.16" cy="229.70" r="1.6" fill="#e0405a"/>
<circle cx="152.59" cy="211.40" r="1.6" fill="#e0405a"/>
<circle cx="178.02" cy="210.70" r="1.6" fill="#e0405a"/>
<circle cx="199.82" cy="197.50" r="1.6" fill="#e0405a"/>
<circle cx="228.89" cy="203.70" r="1.6" fill="#e0405a"/>
<circle cx="247.05" cy="194.30" r="1.6" fill="#e0405a"/>
<circle cx="279.75" cy="207.00" r="1.6" fill="#e0405a"/>
<circle cx="297.91" cy="191.70" r="1.6" fill="#e0405a"/>
<circle cx="330.61" cy="191.30" r="1.6" fill="#e0405a"/>
<circle cx="356.04" cy="191.30" r="1.6" fill="#e0405a"/>
<circle cx="374.21" cy="200.60" r="1.6" fill="#e0405a"/>
<circle cx="406.90" cy="209.90" r="1.6" fill="#e0405a"/>
<circle cx="432.33" cy="215.50" r="1.6" fill="#e0405a"/>
<circle cx="76.30" cy="209.20" r="1.6" fill="#e0405a"/>
<circle cx="79.93" cy="228.20" r="1.6" fill="#e0405a"/>
<circle cx="90.83" cy="231.90" r="1.6" fill="#e0405a"/>
<circle cx="101.73" cy="247.20" r="1.6" fill="#e0405a"/>
<circle cx="127.16" cy="236.20" r="1.6" fill="#e0405a"/>
<circle cx="152.59" cy="233.80" r="1.6" fill="#e0405a"/>
<circle cx="178.02" cy="216.20" r="1.6" fill="#e0405a"/>
<circle cx="207.09" cy="208.10" r="1.6" fill="#e0405a"/>
<circle cx="228.89" cy="215.70" r="1.6" fill="#e0405a"/>
<circle cx="254.32" cy="205.20" r="1.6" fill="#e0405a"/>
<circle cx="272.48" cy="207.00" r="1.6" fill="#e0405a"/>
<circle cx="305.18" cy="207.60" r="1.6" fill="#e0405a"/>
<circle cx="330.61" cy="199.40" r="1.6" fill="#e0405a"/>
<circle cx="356.04" cy="201.50" r="1.6" fill="#e0405a"/>
<circle cx="377.84" cy="217.90" r="1.6" fill="#e0405a"/>
<circle cx="406.90" cy="221.60" r="1.6" fill="#e0405a"/>
<circle cx="432.33" cy="231.00" r="1.6" fill="#e0405a"/>
<circle cx="76.30" cy="216.50" r="1.6" fill="#e0405a"/>
<circle cx="79.93" cy="247.20" r="1.6" fill="#e0405a"/>
<circle cx="90.83" cy="239.20" r="1.6" fill="#e0405a"/>
<circle cx="101.73" cy="249.80" r="1.6" fill="#e0405a"/>
<circle cx="127.16" cy="247.20" r="1.6" fill="#e0405a"/>
<circle cx="152.59" cy="241.40" r="1.6" fill="#e0405a"/>
<circle cx="178.02" cy="218.40" r="1.6" fill="#e0405a"/>
<circle cx="207.09" cy="218.40" r="1.6" fill="#e0405a"/>
<circle cx="228.89" cy="219.40" r="1.6" fill="#e0405a"/>
<circle cx="254.32" cy="223.40" r="1.6" fill="#e0405a"/>
<circle cx="279.75" cy="219.40" r="1.6" fill="#e0405a"/>
<circle cx="305.18" cy="227.50" r="1.6" fill="#e0405a"/>
<circle cx="330.61" cy="224.00" r="1.6" fill="#e0405a"/>
<circle cx="356.04" cy="216.20" r="1.6" fill="#e0405a"/>
<circle cx="377.84" cy="221.60" r="1.6" fill="#e0405a"/>
<circle cx="406.90" cy="233.30" r="1.6" fill="#e0405a"/>
<circle cx="432.33" cy="233.80" r="1.6" fill="#e0405a"/>
<circle cx="76.30" cy="233.80" r="1.6" fill="#e0405a"/>
<circle cx="79.93" cy="257.10" r="1.6" fill="#e0405a"/>
<circle cx="90.83" cy="256.00" r="1.6" fill="#e0405a"/>
<circle cx="127.16" cy="255.70" r="1.6" fill="#e0405a"/>
<circle cx="152.59" cy="242.50" r="1.6" fill="#e0405a"/>
<circle cx="178.02" cy="243.10" r="1.6" fill="#e0405a"/>
<circle cx="199.82" cy="224.30" r="1.6" fill="#e0405a"/>
<circle cx="228.89" cy="221.60" r="1.6" fill="#e0405a"/>
<circle cx="254.32" cy="237.00" r="1.6" fill="#e0405a"/>
<circle cx="279.75" cy="233.70" r="1.6" fill="#e0405a"/>
<circle cx="305.18" cy="235.60" r="1.6" fill="#e0405a"/>
<circle cx="330.61" cy="240.30" r="1.6" fill="#e0405a"/>
<circle cx="356.04" cy="236.10" r="1.6" fill="#e0405a"/>
<circle cx="399.64" cy="235.60" r="1.6" fill="#e0405a"/>
<circle cx="432.33" cy="238.90" r="1.6" fill="#e0405a"/>
<circle cx="76.30" cy="205.00" r="1.6" fill="#e0405a"/>
<circle cx="90.83" cy="245.70" r="1.6" fill="#e0405a"/>
<circle cx="101.73" cy="248.00" r="1.6" fill="#e0405a"/>
<circle cx="127.16" cy="247.00" r="1.6" fill="#e0405a"/>
<circle cx="152.59" cy="233.80" r="1.6" fill="#e0405a"/>
<circle cx="178.02" cy="218.00" r="1.6" fill="#e0405a"/>
<circle cx="203.45" cy="222.00" r="1.6" fill="#e0405a"/>
<circle cx="228.89" cy="221.00" r="1.6" fill="#e0405a"/>
<circle cx="254.32" cy="239.60" r="1.6" fill="#e0405a"/>
<circle cx="279.75" cy="233.00" r="1.6" fill="#e0405a"/>
<circle cx="305.18" cy="228.00" r="1.6" fill="#e0405a"/>
<circle cx="330.61" cy="207.60" r="1.6" fill="#e0405a"/>
<circle cx="374.21" cy="225.60" r="1.6" fill="#e0405a"/>
<circle cx="381.47" cy="233.30" r="1.6" fill="#e0405a"/>
<circle cx="432.33" cy="235.60" r="1.6" fill="#e0405a"/>
<path d="M76.30,216.50 L81.70,223.80 L89.00,229.70 L100.70,234.80 L113.80,237.70 L127.20,236.70 L138.60,232.60 L152.60,224.60 L163.10,220.50 L178.50,214.00 L193.80,210.70 L215.70,209.60 L237.60,210.00 L259.50,211.30 L281.40,210.30 L305.20,209.20 L330.60,208.50 L355.90,209.20 L369.40,211.60 L383.40,215.80 L397.50,218.60 L413.80,219.30 L432.00,219.70" fill="none" stroke="#000" stroke-width="2.6" stroke-linejoin="round" stroke-linecap="round"/>
</g>
<rect x="58.50" y="142.20" width="391.50" height="133.10" fill="none" stroke="#b4b4b4" stroke-width="1.3"/>
<line x1="58.50" y1="142.20" x2="58.50" y2="275.30" stroke="#7a7a7a" stroke-width="0.9"/>
<rect x="450.60" y="142.20" width="15.00" height="133.10" fill="#dcdcd8" stroke="#9a9a9a" stroke-width="1.0"/>
<line x1="450.00" y1="142.20" x2="450.00" y2="275.30" stroke="#808080" stroke-width="1.9"/>
<text transform="translate(455.30,190.03) scale(1.0,1) rotate(90)" font-size="7.4" text-anchor="start" fill="#2a2a2a" stroke="#2a2a2a" stroke-width="0.22">Neutrophils</text>
<line x1="55.60" y1="145.30" x2="58.50" y2="145.30" stroke="#444" stroke-width="0.9"/>
<text x="53.30" y="148.40" font-size="8.3" text-anchor="end" fill="#444" stroke="#444" stroke-width="0.22" textLength="16.32" lengthAdjust="spacingAndGlyphs">12.0</text>
<line x1="55.60" y1="177.40" x2="58.50" y2="177.40" stroke="#444" stroke-width="0.9"/>
<text x="53.30" y="180.50" font-size="8.3" text-anchor="end" fill="#444" stroke="#444" stroke-width="0.22" textLength="11.65" lengthAdjust="spacingAndGlyphs">9.0</text>
<line x1="55.60" y1="209.50" x2="58.50" y2="209.50" stroke="#444" stroke-width="0.9"/>
<text x="53.30" y="212.60" font-size="8.3" text-anchor="end" fill="#444" stroke="#444" stroke-width="0.22" textLength="11.65" lengthAdjust="spacingAndGlyphs">6.0</text>
<line x1="55.60" y1="241.60" x2="58.50" y2="241.60" stroke="#444" stroke-width="0.9"/>
<text x="53.30" y="244.70" font-size="8.3" text-anchor="end" fill="#444" stroke="#444" stroke-width="0.22" textLength="11.65" lengthAdjust="spacingAndGlyphs">3.0</text>
<line x1="55.60" y1="273.70" x2="58.50" y2="273.70" stroke="#444" stroke-width="0.9"/>
<text x="53.30" y="276.80" font-size="8.3" text-anchor="end" fill="#444" stroke="#444" stroke-width="0.22" textLength="11.65" lengthAdjust="spacingAndGlyphs">0.0</text>
<rect x="58.50" y="280.40" width="391.50" height="133.00" fill="#fff" stroke="none" stroke-width="1"/>
<line x1="58.50" y1="292.55" x2="450.00" y2="292.55" stroke="#f4f4f4" stroke-width="0.5"/>
<line x1="58.50" y1="319.25" x2="450.00" y2="319.25" stroke="#f4f4f4" stroke-width="0.5"/>
<line x1="58.50" y1="346.00" x2="450.00" y2="346.00" stroke="#f4f4f4" stroke-width="0.5"/>
<line x1="58.50" y1="372.75" x2="450.00" y2="372.75" stroke="#f4f4f4" stroke-width="0.5"/>
<line x1="58.50" y1="399.45" x2="450.00" y2="399.45" stroke="#f4f4f4" stroke-width="0.5"/>
<line x1="63.58" y1="280.40" x2="63.58" y2="413.40" stroke="#f4f4f4" stroke-width="0.5"/>
<line x1="89.02" y1="280.40" x2="89.02" y2="413.40" stroke="#f4f4f4" stroke-width="0.5"/>
<line x1="114.45" y1="280.40" x2="114.45" y2="413.40" stroke="#f4f4f4" stroke-width="0.5"/>
<line x1="139.88" y1="280.40" x2="139.88" y2="413.40" stroke="#f4f4f4" stroke-width="0.5"/>
<line x1="165.31" y1="280.40" x2="165.31" y2="413.40" stroke="#f4f4f4" stroke-width="0.5"/>
<line x1="190.74" y1="280.40" x2="190.74" y2="413.40" stroke="#f4f4f4" stroke-width="0.5"/>
<line x1="216.17" y1="280.40" x2="216.17" y2="413.40" stroke="#f4f4f4" stroke-width="0.5"/>
<line x1="241.60" y1="280.40" x2="241.60" y2="413.40" stroke="#f4f4f4" stroke-width="0.5"/>
<line x1="267.03" y1="280.40" x2="267.03" y2="413.40" stroke="#f4f4f4" stroke-width="0.5"/>
<line x1="292.46" y1="280.40" x2="292.46" y2="413.40" stroke="#f4f4f4" stroke-width="0.5"/>
<line x1="317.89" y1="280.40" x2="317.89" y2="413.40" stroke="#f4f4f4" stroke-width="0.5"/>
<line x1="343.33" y1="280.40" x2="343.33" y2="413.40" stroke="#f4f4f4" stroke-width="0.5"/>
<line x1="368.76" y1="280.40" x2="368.76" y2="413.40" stroke="#f4f4f4" stroke-width="0.5"/>
<line x1="394.19" y1="280.40" x2="394.19" y2="413.40" stroke="#f4f4f4" stroke-width="0.5"/>
<line x1="419.62" y1="280.40" x2="419.62" y2="413.40" stroke="#f4f4f4" stroke-width="0.5"/>
<line x1="445.05" y1="280.40" x2="445.05" y2="413.40" stroke="#f4f4f4" stroke-width="0.5"/>
<line x1="58.50" y1="305.90" x2="450.00" y2="305.90" stroke="#ebebeb" stroke-width="0.6"/>
<line x1="58.50" y1="332.60" x2="450.00" y2="332.60" stroke="#ebebeb" stroke-width="0.6"/>
<line x1="58.50" y1="359.40" x2="450.00" y2="359.40" stroke="#ebebeb" stroke-width="0.6"/>
<line x1="58.50" y1="386.10" x2="450.00" y2="386.10" stroke="#ebebeb" stroke-width="0.6"/>
<line x1="58.50" y1="412.80" x2="450.00" y2="412.80" stroke="#ebebeb" stroke-width="0.6"/>
<line x1="76.30" y1="280.40" x2="76.30" y2="413.40" stroke="#ebebeb" stroke-width="0.6"/>
<line x1="101.73" y1="280.40" x2="101.73" y2="413.40" stroke="#ebebeb" stroke-width="0.6"/>
<line x1="127.16" y1="280.40" x2="127.16" y2="413.40" stroke="#ebebeb" stroke-width="0.6"/>
<line x1="152.59" y1="280.40" x2="152.59" y2="413.40" stroke="#ebebeb" stroke-width="0.6"/>
<line x1="178.02" y1="280.40" x2="178.02" y2="413.40" stroke="#ebebeb" stroke-width="0.6"/>
<line x1="203.45" y1="280.40" x2="203.45" y2="413.40" stroke="#ebebeb" stroke-width="0.6"/>
<line x1="228.89" y1="280.40" x2="228.89" y2="413.40" stroke="#ebebeb" stroke-width="0.6"/>
<line x1="254.32" y1="280.40" x2="254.32" y2="413.40" stroke="#ebebeb" stroke-width="0.6"/>
<line x1="279.75" y1="280.40" x2="279.75" y2="413.40" stroke="#ebebeb" stroke-width="0.6"/>
<line x1="305.18" y1="280.40" x2="305.18" y2="413.40" stroke="#ebebeb" stroke-width="0.6"/>
<line x1="330.61" y1="280.40" x2="330.61" y2="413.40" stroke="#ebebeb" stroke-width="0.6"/>
<line x1="356.04" y1="280.40" x2="356.04" y2="413.40" stroke="#ebebeb" stroke-width="0.6"/>
<line x1="381.47" y1="280.40" x2="381.47" y2="413.40" stroke="#ebebeb" stroke-width="0.6"/>
<line x1="406.90" y1="280.40" x2="406.90" y2="413.40" stroke="#ebebeb" stroke-width="0.6"/>
<line x1="432.33" y1="280.40" x2="432.33" y2="413.40" stroke="#ebebeb" stroke-width="0.6"/>
<g>
<polyline points="76.30,365.70 79.93,376.70 90.83,385.00 127.16,362.70 152.59,302.60 178.02,354.50 203.45,358.50 228.89,359.10 254.32,359.10 279.75,366.60 305.18,363.60 330.61,365.20 356.04,364.70 374.21,323.40 406.90,327.40 432.33,312.90" fill="none" stroke="#c4c4be" stroke-width="0.7" stroke-linejoin="round"/>
<polyline points="76.30,389.90 90.83,401.20 101.73,394.20 127.16,382.90 152.59,352.20 178.02,360.00 203.45,371.30 228.89,370.10 254.32,366.00 279.75,379.90 305.18,364.70 330.61,379.90 356.04,379.90 374.21,354.90 406.90,336.70 432.33,333.00" fill="none" stroke="#c4c4be" stroke-width="0.7" stroke-linejoin="round"/>
<polyline points="76.30,404.80 79.93,403.50 101.73,396.00 127.16,389.90 152.59,370.20 178.02,375.80 203.45,383.60 228.89,380.90 254.32,376.20 279.75,389.10 305.18,378.30 330.61,384.60 356.04,391.60 381.47,390.40 406.90,378.30 432.33,379.20" fill="none" stroke="#c4c4be" stroke-width="0.7" stroke-linejoin="round"/>
<polyline points="76.30,395.00 90.83,398.00 101.73,403.00 127.16,391.30 152.59,384.60 178.02,384.40 203.45,383.60 228.89,384.40 254.32,387.70 279.75,385.00 305.18,388.60 330.61,384.00 385.11,383.40 399.64,363.60 432.33,366.60" fill="none" stroke="#c4c4be" stroke-width="0.7" stroke-linejoin="round"/>
<polyline points="76.30,392.00 101.73,394.00 127.16,385.00 152.59,353.40 178.02,354.50 203.45,371.00 228.89,370.00 254.32,378.00 279.75,380.00 305.18,370.10 330.61,379.00 356.04,375.00 392.37,383.00 406.90,378.00 432.33,375.00" fill="none" stroke="#c4c4be" stroke-width="0.7" stroke-linejoin="round"/>
<circle cx="76.30" cy="365.70" r="1.5" fill="#b5b5ad"/>
<circle cx="79.93" cy="376.70" r="1.5" fill="#b5b5ad"/>
<circle cx="90.83" cy="385.00" r="1.5" fill="#b5b5ad"/>
<circle cx="127.16" cy="362.70" r="1.5" fill="#b5b5ad"/>
<circle cx="152.59" cy="302.60" r="1.5" fill="#b5b5ad"/>
<circle cx="178.02" cy="354.50" r="1.5" fill="#b5b5ad"/>
<circle cx="203.45" cy="358.50" r="1.5" fill="#b5b5ad"/>
<circle cx="228.89" cy="359.10" r="1.5" fill="#b5b5ad"/>
<circle cx="254.32" cy="359.10" r="1.5" fill="#b5b5ad"/>
<circle cx="279.75" cy="366.60" r="1.5" fill="#b5b5ad"/>
<circle cx="305.18" cy="363.60" r="1.5" fill="#b5b5ad"/>
<circle cx="330.61" cy="365.20" r="1.5" fill="#b5b5ad"/>
<circle cx="356.04" cy="364.70" r="1.5" fill="#b5b5ad"/>
<circle cx="374.21" cy="323.40" r="1.5" fill="#b5b5ad"/>
<circle cx="406.90" cy="327.40" r="1.5" fill="#b5b5ad"/>
<circle cx="432.33" cy="312.90" r="1.5" fill="#b5b5ad"/>
<circle cx="76.30" cy="389.90" r="1.5" fill="#b5b5ad"/>
<circle cx="90.83" cy="401.20" r="1.5" fill="#b5b5ad"/>
<circle cx="101.73" cy="394.20" r="1.5" fill="#b5b5ad"/>
<circle cx="127.16" cy="382.90" r="1.5" fill="#b5b5ad"/>
<circle cx="152.59" cy="352.20" r="1.5" fill="#b5b5ad"/>
<circle cx="178.02" cy="360.00" r="1.5" fill="#b5b5ad"/>
<circle cx="203.45" cy="371.30" r="1.5" fill="#b5b5ad"/>
<circle cx="228.89" cy="370.10" r="1.5" fill="#b5b5ad"/>
<circle cx="254.32" cy="366.00" r="1.5" fill="#b5b5ad"/>
<circle cx="279.75" cy="379.90" r="1.5" fill="#b5b5ad"/>
<circle cx="305.18" cy="364.70" r="1.5" fill="#b5b5ad"/>
<circle cx="330.61" cy="379.90" r="1.5" fill="#b5b5ad"/>
<circle cx="356.04" cy="379.90" r="1.5" fill="#b5b5ad"/>
<circle cx="374.21" cy="354.90" r="1.5" fill="#b5b5ad"/>
<circle cx="406.90" cy="336.70" r="1.5" fill="#b5b5ad"/>
<circle cx="432.33" cy="333.00" r="1.5" fill="#b5b5ad"/>
<circle cx="76.30" cy="404.80" r="1.5" fill="#b5b5ad"/>
<circle cx="79.93" cy="403.50" r="1.5" fill="#b5b5ad"/>
<circle cx="101.73" cy="396.00" r="1.5" fill="#b5b5ad"/>
<circle cx="127.16" cy="389.90" r="1.5" fill="#b5b5ad"/>
<circle cx="152.59" cy="370.20" r="1.5" fill="#b5b5ad"/>
<circle cx="178.02" cy="375.80" r="1.5" fill="#b5b5ad"/>
<circle cx="203.45" cy="383.60" r="1.5" fill="#b5b5ad"/>
<circle cx="228.89" cy="380.90" r="1.5" fill="#b5b5ad"/>
<circle cx="254.32" cy="376.20" r="1.5" fill="#b5b5ad"/>
<circle cx="279.75" cy="389.10" r="1.5" fill="#b5b5ad"/>
<circle cx="305.18" cy="378.30" r="1.5" fill="#b5b5ad"/>
<circle cx="330.61" cy="384.60" r="1.5" fill="#b5b5ad"/>
<circle cx="356.04" cy="391.60" r="1.5" fill="#b5b5ad"/>
<circle cx="381.47" cy="390.40" r="1.5" fill="#b5b5ad"/>
<circle cx="406.90" cy="378.30" r="1.5" fill="#b5b5ad"/>
<circle cx="432.33" cy="379.20" r="1.5" fill="#b5b5ad"/>
<circle cx="76.30" cy="395.00" r="1.5" fill="#b5b5ad"/>
<circle cx="90.83" cy="398.00" r="1.5" fill="#b5b5ad"/>
<circle cx="101.73" cy="403.00" r="1.5" fill="#b5b5ad"/>
<circle cx="127.16" cy="391.30" r="1.5" fill="#b5b5ad"/>
<circle cx="152.59" cy="384.60" r="1.5" fill="#b5b5ad"/>
<circle cx="178.02" cy="384.40" r="1.5" fill="#b5b5ad"/>
<circle cx="203.45" cy="383.60" r="1.5" fill="#b5b5ad"/>
<circle cx="228.89" cy="384.40" r="1.5" fill="#b5b5ad"/>
<circle cx="254.32" cy="387.70" r="1.5" fill="#b5b5ad"/>
<circle cx="279.75" cy="385.00" r="1.5" fill="#b5b5ad"/>
<circle cx="305.18" cy="388.60" r="1.5" fill="#b5b5ad"/>
<circle cx="330.61" cy="384.00" r="1.5" fill="#b5b5ad"/>
<circle cx="385.11" cy="383.40" r="1.5" fill="#b5b5ad"/>
<circle cx="399.64" cy="363.60" r="1.5" fill="#b5b5ad"/>
<circle cx="432.33" cy="366.60" r="1.5" fill="#b5b5ad"/>
<circle cx="76.30" cy="392.00" r="1.5" fill="#b5b5ad"/>
<circle cx="101.73" cy="394.00" r="1.5" fill="#b5b5ad"/>
<circle cx="127.16" cy="385.00" r="1.5" fill="#b5b5ad"/>
<circle cx="152.59" cy="353.40" r="1.5" fill="#b5b5ad"/>
<circle cx="178.02" cy="354.50" r="1.5" fill="#b5b5ad"/>
<circle cx="203.45" cy="371.00" r="1.5" fill="#b5b5ad"/>
<circle cx="228.89" cy="370.00" r="1.5" fill="#b5b5ad"/>
<circle cx="254.32" cy="378.00" r="1.5" fill="#b5b5ad"/>
<circle cx="279.75" cy="380.00" r="1.5" fill="#b5b5ad"/>
<circle cx="305.18" cy="370.10" r="1.5" fill="#b5b5ad"/>
<circle cx="330.61" cy="379.00" r="1.5" fill="#b5b5ad"/>
<circle cx="356.04" cy="375.00" r="1.5" fill="#b5b5ad"/>
<circle cx="392.37" cy="383.00" r="1.5" fill="#b5b5ad"/>
<circle cx="406.90" cy="378.00" r="1.5" fill="#b5b5ad"/>
<circle cx="432.33" cy="375.00" r="1.5" fill="#b5b5ad"/>
<polyline points="76.30,379.70 79.93,381.50 90.83,387.80 101.73,384.60 127.16,350.40 152.59,337.70 178.02,335.00 203.45,340.10 228.89,337.00 254.32,339.50 279.75,342.70 305.18,339.80 330.61,356.60 356.04,356.10 381.47,364.70 406.90,338.60 432.33,340.90" fill="none" stroke="#e46a7e" stroke-width="0.75" stroke-linejoin="round"/>
<polyline points="76.30,386.00 79.93,384.60 90.83,397.70 101.73,386.00 127.16,362.70 152.59,355.70 178.02,361.10 207.09,357.40 228.89,365.20 254.32,371.30 279.75,369.30 297.91,376.90 330.61,362.90 356.04,371.30 374.21,364.30 406.90,366.60 432.33,355.40" fill="none" stroke="#e46a7e" stroke-width="0.75" stroke-linejoin="round"/>
<polyline points="76.30,398.60 79.93,398.60 90.83,405.30 101.73,386.00 127.16,366.20 152.59,356.20 178.02,364.60 196.19,375.40 228.89,373.40 250.68,374.20 272.48,377.50 301.55,387.10 312.44,385.80 356.04,383.00 374.21,365.20 388.74,373.60 432.33,365.20" fill="none" stroke="#e46a7e" stroke-width="0.75" stroke-linejoin="round"/>
<polyline points="76.30,392.00 90.83,407.00 101.73,390.00 127.16,374.10 152.59,365.30 178.02,368.70 203.45,375.40 228.89,373.00 254.32,374.20 279.75,382.40 305.18,386.00 330.61,383.00 356.04,383.90 406.90,385.30 432.33,376.40" fill="none" stroke="#e46a7e" stroke-width="0.75" stroke-linejoin="round"/>
<polyline points="76.30,388.00 90.83,400.00 127.16,375.00 152.59,366.20 178.02,354.80 207.09,369.30 228.89,365.00 254.32,371.00 279.75,369.00 297.91,376.90 337.88,372.20 381.47,364.70 406.90,366.60" fill="none" stroke="#e46a7e" stroke-width="0.75" stroke-linejoin="round"/>
<circle cx="76.30" cy="379.70" r="1.6" fill="#e0405a"/>
<circle cx="79.93" cy="381.50" r="1.6" fill="#e0405a"/>
<circle cx="90.83" cy="387.80" r="1.6" fill="#e0405a"/>
<circle cx="101.73" cy="384.60" r="1.6" fill="#e0405a"/>
<circle cx="127.16" cy="350.40" r="1.6" fill="#e0405a"/>
<circle cx="152.59" cy="337.70" r="1.6" fill="#e0405a"/>
<circle cx="178.02" cy="335.00" r="1.6" fill="#e0405a"/>
<circle cx="203.45" cy="340.10" r="1.6" fill="#e0405a"/>
<circle cx="228.89" cy="337.00" r="1.6" fill="#e0405a"/>
<circle cx="254.32" cy="339.50" r="1.6" fill="#e0405a"/>
<circle cx="279.75" cy="342.70" r="1.6" fill="#e0405a"/>
<circle cx="305.18" cy="339.80" r="1.6" fill="#e0405a"/>
<circle cx="330.61" cy="356.60" r="1.6" fill="#e0405a"/>
<circle cx="356.04" cy="356.10" r="1.6" fill="#e0405a"/>
<circle cx="381.47" cy="364.70" r="1.6" fill="#e0405a"/>
<circle cx="406.90" cy="338.60" r="1.6" fill="#e0405a"/>
<circle cx="432.33" cy="340.90" r="1.6" fill="#e0405a"/>
<circle cx="76.30" cy="386.00" r="1.6" fill="#e0405a"/>
<circle cx="79.93" cy="384.60" r="1.6" fill="#e0405a"/>
<circle cx="90.83" cy="397.70" r="1.6" fill="#e0405a"/>
<circle cx="101.73" cy="386.00" r="1.6" fill="#e0405a"/>
<circle cx="127.16" cy="362.70" r="1.6" fill="#e0405a"/>
<circle cx="152.59" cy="355.70" r="1.6" fill="#e0405a"/>
<circle cx="178.02" cy="361.10" r="1.6" fill="#e0405a"/>
<circle cx="207.09" cy="357.40" r="1.6" fill="#e0405a"/>
<circle cx="228.89" cy="365.20" r="1.6" fill="#e0405a"/>
<circle cx="254.32" cy="371.30" r="1.6" fill="#e0405a"/>
<circle cx="279.75" cy="369.30" r="1.6" fill="#e0405a"/>
<circle cx="297.91" cy="376.90" r="1.6" fill="#e0405a"/>
<circle cx="330.61" cy="362.90" r="1.6" fill="#e0405a"/>
<circle cx="356.04" cy="371.30" r="1.6" fill="#e0405a"/>
<circle cx="374.21" cy="364.30" r="1.6" fill="#e0405a"/>
<circle cx="406.90" cy="366.60" r="1.6" fill="#e0405a"/>
<circle cx="432.33" cy="355.40" r="1.6" fill="#e0405a"/>
<circle cx="76.30" cy="398.60" r="1.6" fill="#e0405a"/>
<circle cx="79.93" cy="398.60" r="1.6" fill="#e0405a"/>
<circle cx="90.83" cy="405.30" r="1.6" fill="#e0405a"/>
<circle cx="101.73" cy="386.00" r="1.6" fill="#e0405a"/>
<circle cx="127.16" cy="366.20" r="1.6" fill="#e0405a"/>
<circle cx="152.59" cy="356.20" r="1.6" fill="#e0405a"/>
<circle cx="178.02" cy="364.60" r="1.6" fill="#e0405a"/>
<circle cx="196.19" cy="375.40" r="1.6" fill="#e0405a"/>
<circle cx="228.89" cy="373.40" r="1.6" fill="#e0405a"/>
<circle cx="250.68" cy="374.20" r="1.6" fill="#e0405a"/>
<circle cx="272.48" cy="377.50" r="1.6" fill="#e0405a"/>
<circle cx="301.55" cy="387.10" r="1.6" fill="#e0405a"/>
<circle cx="312.44" cy="385.80" r="1.6" fill="#e0405a"/>
<circle cx="356.04" cy="383.00" r="1.6" fill="#e0405a"/>
<circle cx="374.21" cy="365.20" r="1.6" fill="#e0405a"/>
<circle cx="388.74" cy="373.60" r="1.6" fill="#e0405a"/>
<circle cx="432.33" cy="365.20" r="1.6" fill="#e0405a"/>
<circle cx="76.30" cy="392.00" r="1.6" fill="#e0405a"/>
<circle cx="90.83" cy="407.00" r="1.6" fill="#e0405a"/>
<circle cx="101.73" cy="390.00" r="1.6" fill="#e0405a"/>
<circle cx="127.16" cy="374.10" r="1.6" fill="#e0405a"/>
<circle cx="152.59" cy="365.30" r="1.6" fill="#e0405a"/>
<circle cx="178.02" cy="368.70" r="1.6" fill="#e0405a"/>
<circle cx="203.45" cy="375.40" r="1.6" fill="#e0405a"/>
<circle cx="228.89" cy="373.00" r="1.6" fill="#e0405a"/>
<circle cx="254.32" cy="374.20" r="1.6" fill="#e0405a"/>
<circle cx="279.75" cy="382.40" r="1.6" fill="#e0405a"/>
<circle cx="305.18" cy="386.00" r="1.6" fill="#e0405a"/>
<circle cx="330.61" cy="383.00" r="1.6" fill="#e0405a"/>
<circle cx="356.04" cy="383.90" r="1.6" fill="#e0405a"/>
<circle cx="406.90" cy="385.30" r="1.6" fill="#e0405a"/>
<circle cx="432.33" cy="376.40" r="1.6" fill="#e0405a"/>
<circle cx="76.30" cy="388.00" r="1.6" fill="#e0405a"/>
<circle cx="90.83" cy="400.00" r="1.6" fill="#e0405a"/>
<circle cx="127.16" cy="375.00" r="1.6" fill="#e0405a"/>
<circle cx="152.59" cy="366.20" r="1.6" fill="#e0405a"/>
<circle cx="178.02" cy="354.80" r="1.6" fill="#e0405a"/>
<circle cx="207.09" cy="369.30" r="1.6" fill="#e0405a"/>
<circle cx="228.89" cy="365.00" r="1.6" fill="#e0405a"/>
<circle cx="254.32" cy="371.00" r="1.6" fill="#e0405a"/>
<circle cx="279.75" cy="369.00" r="1.6" fill="#e0405a"/>
<circle cx="297.91" cy="376.90" r="1.6" fill="#e0405a"/>
<circle cx="337.88" cy="372.20" r="1.6" fill="#e0405a"/>
<circle cx="381.47" cy="364.70" r="1.6" fill="#e0405a"/>
<circle cx="406.90" cy="366.60" r="1.6" fill="#e0405a"/>
<path d="M76.30,392.10 L88.40,393.40 L101.70,387.20 L113.80,379.30 L127.10,370.90 L140.10,364.50 L149.70,361.00 L161.10,360.40 L170.00,361.50 L178.00,363.20 L190.40,365.60 L203.30,367.30 L228.90,368.10 L254.20,369.30 L279.70,371.70 L292.60,372.60 L305.20,373.40 L330.60,374.10 L355.90,374.60 L369.40,372.20 L383.40,369.40 L406.80,363.60 L432.30,356.60" fill="none" stroke="#000" stroke-width="2.6" stroke-linejoin="round" stroke-linecap="round"/>
</g>
<rect x="58.50" y="280.40" width="391.50" height="133.00" fill="none" stroke="#b4b4b4" stroke-width="1.3"/>
<line x1="58.50" y1="280.40" x2="58.50" y2="413.40" stroke="#7a7a7a" stroke-width="0.9"/>
<rect x="450.60" y="280.40" width="15.00" height="133.00" fill="#dcdcd8" stroke="#9a9a9a" stroke-width="1.0"/>
<line x1="450.00" y1="280.40" x2="450.00" y2="413.40" stroke="#808080" stroke-width="1.9"/>
<text transform="translate(455.30,325.24) scale(1.0,1) rotate(90)" font-size="7.4" text-anchor="start" fill="#2a2a2a" stroke="#2a2a2a" stroke-width="0.22">Lymphocytes</text>
<line x1="55.60" y1="305.90" x2="58.50" y2="305.90" stroke="#444" stroke-width="0.9"/>
<text x="53.30" y="309.00" font-size="8.3" text-anchor="end" fill="#444" stroke="#444" stroke-width="0.22" textLength="16.32" lengthAdjust="spacingAndGlyphs">10.0</text>
<line x1="55.60" y1="332.60" x2="58.50" y2="332.60" stroke="#444" stroke-width="0.9"/>
<text x="53.30" y="335.70" font-size="8.3" text-anchor="end" fill="#444" stroke="#444" stroke-width="0.22" textLength="11.65" lengthAdjust="spacingAndGlyphs">7.5</text>
<line x1="55.60" y1="359.40" x2="58.50" y2="359.40" stroke="#444" stroke-width="0.9"/>
<text x="53.30" y="362.50" font-size="8.3" text-anchor="end" fill="#444" stroke="#444" stroke-width="0.22" textLength="11.65" lengthAdjust="spacingAndGlyphs">5.0</text>
<line x1="55.60" y1="386.10" x2="58.50" y2="386.10" stroke="#444" stroke-width="0.9"/>
<text x="53.30" y="389.20" font-size="8.3" text-anchor="end" fill="#444" stroke="#444" stroke-width="0.22" textLength="11.65" lengthAdjust="spacingAndGlyphs">2.5</text>
<line x1="55.60" y1="412.80" x2="58.50" y2="412.80" stroke="#444" stroke-width="0.9"/>
<text x="53.30" y="415.90" font-size="8.3" text-anchor="end" fill="#444" stroke="#444" stroke-width="0.22" textLength="11.65" lengthAdjust="spacingAndGlyphs">0.0</text>
<rect x="58.50" y="418.60" width="391.50" height="133.00" fill="#fff" stroke="none" stroke-width="1"/>
<line x1="58.50" y1="425.50" x2="450.00" y2="425.50" stroke="#f4f4f4" stroke-width="0.5"/>
<line x1="58.50" y1="453.50" x2="450.00" y2="453.50" stroke="#f4f4f4" stroke-width="0.5"/>
<line x1="58.50" y1="481.50" x2="450.00" y2="481.50" stroke="#f4f4f4" stroke-width="0.5"/>
<line x1="58.50" y1="509.45" x2="450.00" y2="509.45" stroke="#f4f4f4" stroke-width="0.5"/>
<line x1="58.50" y1="537.40" x2="450.00" y2="537.40" stroke="#f4f4f4" stroke-width="0.5"/>
<line x1="63.58" y1="418.60" x2="63.58" y2="551.60" stroke="#f4f4f4" stroke-width="0.5"/>
<line x1="89.02" y1="418.60" x2="89.02" y2="551.60" stroke="#f4f4f4" stroke-width="0.5"/>
<line x1="114.45" y1="418.60" x2="114.45" y2="551.60" stroke="#f4f4f4" stroke-width="0.5"/>
<line x1="139.88" y1="418.60" x2="139.88" y2="551.60" stroke="#f4f4f4" stroke-width="0.5"/>
<line x1="165.31" y1="418.60" x2="165.31" y2="551.60" stroke="#f4f4f4" stroke-width="0.5"/>
<line x1="190.74" y1="418.60" x2="190.74" y2="551.60" stroke="#f4f4f4" stroke-width="0.5"/>
<line x1="216.17" y1="418.60" x2="216.17" y2="551.60" stroke="#f4f4f4" stroke-width="0.5"/>
<line x1="241.60" y1="418.60" x2="241.60" y2="551.60" stroke="#f4f4f4" stroke-width="0.5"/>
<line x1="267.03" y1="418.60" x2="267.03" y2="551.60" stroke="#f4f4f4" stroke-width="0.5"/>
<line x1="292.46" y1="418.60" x2="292.46" y2="551.60" stroke="#f4f4f4" stroke-width="0.5"/>
<line x1="317.89" y1="418.60" x2="317.89" y2="551.60" stroke="#f4f4f4" stroke-width="0.5"/>
<line x1="343.33" y1="418.60" x2="343.33" y2="551.60" stroke="#f4f4f4" stroke-width="0.5"/>
<line x1="368.76" y1="418.60" x2="368.76" y2="551.60" stroke="#f4f4f4" stroke-width="0.5"/>
<line x1="394.19" y1="418.60" x2="394.19" y2="551.60" stroke="#f4f4f4" stroke-width="0.5"/>
<line x1="419.62" y1="418.60" x2="419.62" y2="551.60" stroke="#f4f4f4" stroke-width="0.5"/>
<line x1="445.05" y1="418.60" x2="445.05" y2="551.60" stroke="#f4f4f4" stroke-width="0.5"/>
<line x1="58.50" y1="439.50" x2="450.00" y2="439.50" stroke="#ebebeb" stroke-width="0.6"/>
<line x1="58.50" y1="467.50" x2="450.00" y2="467.50" stroke="#ebebeb" stroke-width="0.6"/>
<line x1="58.50" y1="495.50" x2="450.00" y2="495.50" stroke="#ebebeb" stroke-width="0.6"/>
<line x1="58.50" y1="523.40" x2="450.00" y2="523.40" stroke="#ebebeb" stroke-width="0.6"/>
<line x1="58.50" y1="551.40" x2="450.00" y2="551.40" stroke="#ebebeb" stroke-width="0.6"/>
<line x1="76.30" y1="418.60" x2="76.30" y2="551.60" stroke="#ebebeb" stroke-width="0.6"/>
<line x1="101.73" y1="418.60" x2="101.73" y2="551.60" stroke="#ebebeb" stroke-width="0.6"/>
<line x1="127.16" y1="418.60" x2="127.16" y2="551.60" stroke="#ebebeb" stroke-width="0.6"/>
<line x1="152.59" y1="418.60" x2="152.59" y2="551.60" stroke="#ebebeb" stroke-width="0.6"/>
<line x1="178.02" y1="418.60" x2="178.02" y2="551.60" stroke="#ebebeb" stroke-width="0.6"/>
<line x1="203.45" y1="418.60" x2="203.45" y2="551.60" stroke="#ebebeb" stroke-width="0.6"/>
<line x1="228.89" y1="418.60" x2="228.89" y2="551.60" stroke="#ebebeb" stroke-width="0.6"/>
<line x1="254.32" y1="418.60" x2="254.32" y2="551.60" stroke="#ebebeb" stroke-width="0.6"/>
<line x1="279.75" y1="418.60" x2="279.75" y2="551.60" stroke="#ebebeb" stroke-width="0.6"/>
<line x1="305.18" y1="418.60" x2="305.18" y2="551.60" stroke="#ebebeb" stroke-width="0.6"/>
<line x1="330.61" y1="418.60" x2="330.61" y2="551.60" stroke="#ebebeb" stroke-width="0.6"/>
<line x1="356.04" y1="418.60" x2="356.04" y2="551.60" stroke="#ebebeb" stroke-width="0.6"/>
<line x1="381.47" y1="418.60" x2="381.47" y2="551.60" stroke="#ebebeb" stroke-width="0.6"/>
<line x1="406.90" y1="418.60" x2="406.90" y2="551.60" stroke="#ebebeb" stroke-width="0.6"/>
<line x1="432.33" y1="418.60" x2="432.33" y2="551.60" stroke="#ebebeb" stroke-width="0.6"/>
<g>
<polyline points="76.30,516.20 90.83,505.00 105.36,497.10 127.16,494.80 152.59,440.90 178.02,495.70 203.45,515.00 228.89,515.40 254.32,507.80 279.75,523.10 305.18,517.20 330.61,524.20 356.04,520.20 374.21,514.40 406.90,500.40 432.33,509.20" fill="none" stroke="#c4c4be" stroke-width="0.7" stroke-linejoin="round"/>
<polyline points="76.30,529.50 79.93,526.00 101.73,529.50 127.16,505.70 152.59,498.00 178.02,509.20 203.45,522.70 228.89,524.20 254.32,516.00 279.75,530.90 305.18,523.30 330.61,531.20 356.04,524.20 385.11,520.90 406.90,506.90 432.33,497.60" fill="none" stroke="#c4c4be" stroke-width="0.7" stroke-linejoin="round"/>
<polyline points="76.30,543.50 79.93,540.00 90.83,542.10 127.16,530.20 152.59,526.40 178.02,524.60 203.45,537.90 228.89,535.00 254.32,524.80 279.75,541.50 305.18,539.60 330.61,540.10 356.04,543.60 381.47,545.50 406.90,539.60 432.33,538.90" fill="none" stroke="#c4c4be" stroke-width="0.7" stroke-linejoin="round"/>
<polyline points="76.30,532.00 90.83,535.00 127.16,541.20 152.59,534.80 178.02,526.00 203.45,530.00 228.89,540.50 254.32,537.40 279.75,530.00 305.18,525.60 330.61,531.00 356.04,535.90 399.64,531.90 432.33,537.70" fill="none" stroke="#c4c4be" stroke-width="0.7" stroke-linejoin="round"/>
<polyline points="76.30,528.00 90.83,530.00 127.16,512.30 152.59,504.50 178.02,525.20 203.45,528.00 228.89,528.00 254.32,530.00 279.75,528.00 305.18,530.00 330.61,530.00 381.47,524.20 432.33,530.00" fill="none" stroke="#c4c4be" stroke-width="0.7" stroke-linejoin="round"/>
<circle cx="76.30" cy="516.20" r="1.5" fill="#b5b5ad"/>
<circle cx="90.83" cy="505.00" r="1.5" fill="#b5b5ad"/>
<circle cx="105.36" cy="497.10" r="1.5" fill="#b5b5ad"/>
<circle cx="127.16" cy="494.80" r="1.5" fill="#b5b5ad"/>
<circle cx="152.59" cy="440.90" r="1.5" fill="#b5b5ad"/>
<circle cx="178.02" cy="495.70" r="1.5" fill="#b5b5ad"/>
<circle cx="203.45" cy="515.00" r="1.5" fill="#b5b5ad"/>
<circle cx="228.89" cy="515.40" r="1.5" fill="#b5b5ad"/>
<circle cx="254.32" cy="507.80" r="1.5" fill="#b5b5ad"/>
<circle cx="279.75" cy="523.10" r="1.5" fill="#b5b5ad"/>
<circle cx="305.18" cy="517.20" r="1.5" fill="#b5b5ad"/>
<circle cx="330.61" cy="524.20" r="1.5" fill="#b5b5ad"/>
<circle cx="356.04" cy="520.20" r="1.5" fill="#b5b5ad"/>
<circle cx="374.21" cy="514.40" r="1.5" fill="#b5b5ad"/>
<circle cx="406.90" cy="500.40" r="1.5" fill="#b5b5ad"/>
<circle cx="432.33" cy="509.20" r="1.5" fill="#b5b5ad"/>
<circle cx="76.30" cy="529.50" r="1.5" fill="#b5b5ad"/>
<circle cx="79.93" cy="526.00" r="1.5" fill="#b5b5ad"/>
<circle cx="101.73" cy="529.50" r="1.5" fill="#b5b5ad"/>
<circle cx="127.16" cy="505.70" r="1.5" fill="#b5b5ad"/>
<circle cx="152.59" cy="498.00" r="1.5" fill="#b5b5ad"/>
<circle cx="178.02" cy="509.20" r="1.5" fill="#b5b5ad"/>
<circle cx="203.45" cy="522.70" r="1.5" fill="#b5b5ad"/>
<circle cx="228.89" cy="524.20" r="1.5" fill="#b5b5ad"/>
<circle cx="254.32" cy="516.00" r="1.5" fill="#b5b5ad"/>
<circle cx="279.75" cy="530.90" r="1.5" fill="#b5b5ad"/>
<circle cx="305.18" cy="523.30" r="1.5" fill="#b5b5ad"/>
<circle cx="330.61" cy="531.20" r="1.5" fill="#b5b5ad"/>
<circle cx="356.04" cy="524.20" r="1.5" fill="#b5b5ad"/>
<circle cx="385.11" cy="520.90" r="1.5" fill="#b5b5ad"/>
<circle cx="406.90" cy="506.90" r="1.5" fill="#b5b5ad"/>
<circle cx="432.33" cy="497.60" r="1.5" fill="#b5b5ad"/>
<circle cx="76.30" cy="543.50" r="1.5" fill="#b5b5ad"/>
<circle cx="79.93" cy="540.00" r="1.5" fill="#b5b5ad"/>
<circle cx="90.83" cy="542.10" r="1.5" fill="#b5b5ad"/>
<circle cx="127.16" cy="530.20" r="1.5" fill="#b5b5ad"/>
<circle cx="152.59" cy="526.40" r="1.5" fill="#b5b5ad"/>
<circle cx="178.02" cy="524.60" r="1.5" fill="#b5b5ad"/>
<circle cx="203.45" cy="537.90" r="1.5" fill="#b5b5ad"/>
<circle cx="228.89" cy="535.00" r="1.5" fill="#b5b5ad"/>
<circle cx="254.32" cy="524.80" r="1.5" fill="#b5b5ad"/>
<circle cx="279.75" cy="541.50" r="1.5" fill="#b5b5ad"/>
<circle cx="305.18" cy="539.60" r="1.5" fill="#b5b5ad"/>
<circle cx="330.61" cy="540.10" r="1.5" fill="#b5b5ad"/>
<circle cx="356.04" cy="543.60" r="1.5" fill="#b5b5ad"/>
<circle cx="381.47" cy="545.50" r="1.5" fill="#b5b5ad"/>
<circle cx="406.90" cy="539.60" r="1.5" fill="#b5b5ad"/>
<circle cx="432.33" cy="538.90" r="1.5" fill="#b5b5ad"/>
<circle cx="76.30" cy="532.00" r="1.5" fill="#b5b5ad"/>
<circle cx="90.83" cy="535.00" r="1.5" fill="#b5b5ad"/>
<circle cx="127.16" cy="541.20" r="1.5" fill="#b5b5ad"/>
<circle cx="152.59" cy="534.80" r="1.5" fill="#b5b5ad"/>
<circle cx="178.02" cy="526.00" r="1.5" fill="#b5b5ad"/>
<circle cx="203.45" cy="530.00" r="1.5" fill="#b5b5ad"/>
<circle cx="228.89" cy="540.50" r="1.5" fill="#b5b5ad"/>
<circle cx="254.32" cy="537.40" r="1.5" fill="#b5b5ad"/>
<circle cx="279.75" cy="530.00" r="1.5" fill="#b5b5ad"/>
<circle cx="305.18" cy="525.60" r="1.5" fill="#b5b5ad"/>
<circle cx="330.61" cy="531.00" r="1.5" fill="#b5b5ad"/>
<circle cx="356.04" cy="535.90" r="1.5" fill="#b5b5ad"/>
<circle cx="399.64" cy="531.90" r="1.5" fill="#b5b5ad"/>
<circle cx="432.33" cy="537.70" r="1.5" fill="#b5b5ad"/>
<circle cx="76.30" cy="528.00" r="1.5" fill="#b5b5ad"/>
<circle cx="90.83" cy="530.00" r="1.5" fill="#b5b5ad"/>
<circle cx="127.16" cy="512.30" r="1.5" fill="#b5b5ad"/>
<circle cx="152.59" cy="504.50" r="1.5" fill="#b5b5ad"/>
<circle cx="178.02" cy="525.20" r="1.5" fill="#b5b5ad"/>
<circle cx="203.45" cy="528.00" r="1.5" fill="#b5b5ad"/>
<circle cx="228.89" cy="528.00" r="1.5" fill="#b5b5ad"/>
<circle cx="254.32" cy="530.00" r="1.5" fill="#b5b5ad"/>
<circle cx="279.75" cy="528.00" r="1.5" fill="#b5b5ad"/>
<circle cx="305.18" cy="530.00" r="1.5" fill="#b5b5ad"/>
<circle cx="330.61" cy="530.00" r="1.5" fill="#b5b5ad"/>
<circle cx="381.47" cy="524.20" r="1.5" fill="#b5b5ad"/>
<circle cx="432.33" cy="530.00" r="1.5" fill="#b5b5ad"/>
<polyline points="76.30,524.60 79.93,529.00 90.83,521.10 127.16,500.40 152.59,494.50 178.02,503.60 199.82,520.10 228.89,517.60 254.32,521.10 279.75,527.20 305.18,528.40 330.61,524.90 356.04,527.20 381.47,518.60 406.90,520.20 432.33,528.40" fill="none" stroke="#e46a7e" stroke-width="0.75" stroke-linejoin="round"/>
<polyline points="76.30,535.10 79.93,534.80 90.83,533.40 101.73,534.20 127.16,514.10 152.59,508.80 178.02,506.80 207.09,518.60 228.89,517.60 254.32,530.50 279.75,527.20 305.18,528.40 337.88,524.40 374.21,527.20 388.74,534.90 406.90,533.10 432.33,533.10" fill="none" stroke="#e46a7e" stroke-width="0.75" stroke-linejoin="round"/>
<polyline points="76.30,538.60 79.93,539.50 90.83,537.20 101.73,539.50 127.16,534.20 152.59,515.00 178.02,531.30 196.19,537.40 228.89,535.80 250.68,535.40 272.48,539.50 297.91,537.70 312.44,537.30 330.61,533.50 377.84,537.00 406.90,533.10 432.33,534.20" fill="none" stroke="#e46a7e" stroke-width="0.75" stroke-linejoin="round"/>
<polyline points="76.30,530.00 90.83,533.00 101.73,534.00 127.16,514.00 152.59,515.80 178.02,531.60 199.82,533.80 228.89,535.00 254.32,535.40 279.75,535.80 297.91,537.40 330.61,526.10 356.04,527.20 406.90,532.00 432.33,539.60" fill="none" stroke="#e46a7e" stroke-width="0.75" stroke-linejoin="round"/>
<circle cx="76.30" cy="524.60" r="1.6" fill="#e0405a"/>
<circle cx="79.93" cy="529.00" r="1.6" fill="#e0405a"/>
<circle cx="90.83" cy="521.10" r="1.6" fill="#e0405a"/>
<circle cx="127.16" cy="500.40" r="1.6" fill="#e0405a"/>
<circle cx="152.59" cy="494.50" r="1.6" fill="#e0405a"/>
<circle cx="178.02" cy="503.60" r="1.6" fill="#e0405a"/>
<circle cx="199.82" cy="520.10" r="1.6" fill="#e0405a"/>
<circle cx="228.89" cy="517.60" r="1.6" fill="#e0405a"/>
<circle cx="254.32" cy="521.10" r="1.6" fill="#e0405a"/>
<circle cx="279.75" cy="527.20" r="1.6" fill="#e0405a"/>
<circle cx="305.18" cy="528.40" r="1.6" fill="#e0405a"/>
<circle cx="330.61" cy="524.90" r="1.6" fill="#e0405a"/>
<circle cx="356.04" cy="527.20" r="1.6" fill="#e0405a"/>
<circle cx="381.47" cy="518.60" r="1.6" fill="#e0405a"/>
<circle cx="406.90" cy="520.20" r="1.6" fill="#e0405a"/>
<circle cx="432.33" cy="528.40" r="1.6" fill="#e0405a"/>
<circle cx="76.30" cy="535.10" r="1.6" fill="#e0405a"/>
<circle cx="79.93" cy="534.80" r="1.6" fill="#e0405a"/>
<circle cx="90.83" cy="533.40" r="1.6" fill="#e0405a"/>
<circle cx="101.73" cy="534.20" r="1.6" fill="#e0405a"/>
<circle cx="127.16" cy="514.10" r="1.6" fill="#e0405a"/>
<circle cx="152.59" cy="508.80" r="1.6" fill="#e0405a"/>
<circle cx="178.02" cy="506.80" r="1.6" fill="#e0405a"/>
<circle cx="207.09" cy="518.60" r="1.6" fill="#e0405a"/>
<circle cx="228.89" cy="517.60" r="1.6" fill="#e0405a"/>
<circle cx="254.32" cy="530.50" r="1.6" fill="#e0405a"/>
<circle cx="279.75" cy="527.20" r="1.6" fill="#e0405a"/>
<circle cx="305.18" cy="528.40" r="1.6" fill="#e0405a"/>
<circle cx="337.88" cy="524.40" r="1.6" fill="#e0405a"/>
<circle cx="374.21" cy="527.20" r="1.6" fill="#e0405a"/>
<circle cx="388.74" cy="534.90" r="1.6" fill="#e0405a"/>
<circle cx="406.90" cy="533.10" r="1.6" fill="#e0405a"/>
<circle cx="432.33" cy="533.10" r="1.6" fill="#e0405a"/>
<circle cx="76.30" cy="538.60" r="1.6" fill="#e0405a"/>
<circle cx="79.93" cy="539.50" r="1.6" fill="#e0405a"/>
<circle cx="90.83" cy="537.20" r="1.6" fill="#e0405a"/>
<circle cx="101.73" cy="539.50" r="1.6" fill="#e0405a"/>
<circle cx="127.16" cy="534.20" r="1.6" fill="#e0405a"/>
<circle cx="152.59" cy="515.00" r="1.6" fill="#e0405a"/>
<circle cx="178.02" cy="531.30" r="1.6" fill="#e0405a"/>
<circle cx="196.19" cy="537.40" r="1.6" fill="#e0405a"/>
<circle cx="228.89" cy="535.80" r="1.6" fill="#e0405a"/>
<circle cx="250.68" cy="535.40" r="1.6" fill="#e0405a"/>
<circle cx="272.48" cy="539.50" r="1.6" fill="#e0405a"/>
<circle cx="297.91" cy="537.70" r="1.6" fill="#e0405a"/>
<circle cx="312.44" cy="537.30" r="1.6" fill="#e0405a"/>
<circle cx="330.61" cy="533.50" r="1.6" fill="#e0405a"/>
<circle cx="377.84" cy="537.00" r="1.6" fill="#e0405a"/>
<circle cx="406.90" cy="533.10" r="1.6" fill="#e0405a"/>
<circle cx="432.33" cy="534.20" r="1.6" fill="#e0405a"/>
<circle cx="76.30" cy="530.00" r="1.6" fill="#e0405a"/>
<circle cx="90.83" cy="533.00" r="1.6" fill="#e0405a"/>
<circle cx="101.73" cy="534.00" r="1.6" fill="#e0405a"/>
<circle cx="127.16" cy="514.00" r="1.6" fill="#e0405a"/>
<circle cx="152.59" cy="515.80" r="1.6" fill="#e0405a"/>
<circle cx="178.02" cy="531.60" r="1.6" fill="#e0405a"/>
<circle cx="199.82" cy="533.80" r="1.6" fill="#e0405a"/>
<circle cx="228.89" cy="535.00" r="1.6" fill="#e0405a"/>
<circle cx="254.32" cy="535.40" r="1.6" fill="#e0405a"/>
<circle cx="279.75" cy="535.80" r="1.6" fill="#e0405a"/>
<circle cx="297.91" cy="537.40" r="1.6" fill="#e0405a"/>
<circle cx="330.61" cy="526.10" r="1.6" fill="#e0405a"/>
<circle cx="356.04" cy="527.20" r="1.6" fill="#e0405a"/>
<circle cx="406.90" cy="532.00" r="1.6" fill="#e0405a"/>
<circle cx="432.33" cy="539.60" r="1.6" fill="#e0405a"/>
<path d="M76.30,532.50 L87.50,529.00 L101.70,525.50 L113.80,521.10 L127.10,516.70 L140.10,513.70 L149.70,512.70 L161.10,514.10 L170.00,517.40 L178.00,520.10 L190.40,524.20 L203.30,527.20 L228.90,528.70 L254.20,528.90 L279.70,530.30 L292.60,530.70 L313.40,530.30 L336.70,530.30 L360.10,530.30 L383.40,529.60 L406.80,527.90 L417.30,527.20 L432.30,528.40" fill="none" stroke="#000" stroke-width="2.6" stroke-linejoin="round" stroke-linecap="round"/>
</g>
<rect x="58.50" y="418.60" width="391.50" height="133.00" fill="none" stroke="#b4b4b4" stroke-width="1.3"/>
<line x1="58.50" y1="418.60" x2="58.50" y2="551.60" stroke="#7a7a7a" stroke-width="0.9"/>
<rect x="450.60" y="418.60" width="15.00" height="133.00" fill="#dcdcd8" stroke="#9a9a9a" stroke-width="1.0"/>
<line x1="450.00" y1="418.60" x2="450.00" y2="551.60" stroke="#808080" stroke-width="1.9"/>
<text transform="translate(455.30,467.21) scale(1.0,1) rotate(90)" font-size="7.4" text-anchor="start" fill="#2a2a2a" stroke="#2a2a2a" stroke-width="0.22">Monocytes</text>
<line x1="55.60" y1="439.50" x2="58.50" y2="439.50" stroke="#444" stroke-width="0.9"/>
<text x="53.30" y="442.60" font-size="8.3" text-anchor="end" fill="#444" stroke="#444" stroke-width="0.22" textLength="11.65" lengthAdjust="spacingAndGlyphs">2.0</text>
<line x1="55.60" y1="467.50" x2="58.50" y2="467.50" stroke="#444" stroke-width="0.9"/>
<text x="53.30" y="470.60" font-size="8.3" text-anchor="end" fill="#444" stroke="#444" stroke-width="0.22" textLength="11.65" lengthAdjust="spacingAndGlyphs">1.5</text>
<line x1="55.60" y1="495.50" x2="58.50" y2="495.50" stroke="#444" stroke-width="0.9"/>
<text x="53.30" y="498.60" font-size="8.3" text-anchor="end" fill="#444" stroke="#444" stroke-width="0.22" textLength="11.65" lengthAdjust="spacingAndGlyphs">1.0</text>
<line x1="55.60" y1="523.40" x2="58.50" y2="523.40" stroke="#444" stroke-width="0.9"/>
<text x="53.30" y="526.50" font-size="8.3" text-anchor="end" fill="#444" stroke="#444" stroke-width="0.22" textLength="11.65" lengthAdjust="spacingAndGlyphs">0.5</text>
<line x1="55.60" y1="551.40" x2="58.50" y2="551.40" stroke="#444" stroke-width="0.9"/>
<text x="53.30" y="554.50" font-size="8.3" text-anchor="end" fill="#444" stroke="#444" stroke-width="0.22" textLength="11.65" lengthAdjust="spacingAndGlyphs">0.0</text>
<line x1="58.50" y1="551.60" x2="450.00" y2="551.60" stroke="#777" stroke-width="0.9"/>
<line x1="76.30" y1="551.60" x2="76.30" y2="554.20" stroke="#444" stroke-width="0.9"/>
<text x="76.30" y="561.30" font-size="7.6" text-anchor="middle" fill="#444" stroke="#444" stroke-width="0.22" textLength="4.52" lengthAdjust="spacingAndGlyphs">0</text>
<line x1="101.73" y1="551.60" x2="101.73" y2="554.20" stroke="#444" stroke-width="0.9"/>
<text x="101.73" y="561.30" font-size="7.6" text-anchor="middle" fill="#444" stroke="#444" stroke-width="0.22" textLength="4.52" lengthAdjust="spacingAndGlyphs">7</text>
<line x1="127.16" y1="551.60" x2="127.16" y2="554.20" stroke="#444" stroke-width="0.9"/>
<text x="127.16" y="561.30" font-size="7.6" text-anchor="middle" fill="#444" stroke="#444" stroke-width="0.22" textLength="9.05" lengthAdjust="spacingAndGlyphs">14</text>
<line x1="152.59" y1="551.60" x2="152.59" y2="554.20" stroke="#444" stroke-width="0.9"/>
<text x="152.59" y="561.30" font-size="7.6" text-anchor="middle" fill="#444" stroke="#444" stroke-width="0.22" textLength="9.05" lengthAdjust="spacingAndGlyphs">21</text>
<line x1="178.02" y1="551.60" x2="178.02" y2="554.20" stroke="#444" stroke-width="0.9"/>
<text x="178.02" y="561.30" font-size="7.6" text-anchor="middle" fill="#444" stroke="#444" stroke-width="0.22" textLength="9.05" lengthAdjust="spacingAndGlyphs">28</text>
<line x1="203.45" y1="551.60" x2="203.45" y2="554.20" stroke="#444" stroke-width="0.9"/>
<text x="203.45" y="561.30" font-size="7.6" text-anchor="middle" fill="#444" stroke="#444" stroke-width="0.22" textLength="9.05" lengthAdjust="spacingAndGlyphs">35</text>
<line x1="228.89" y1="551.60" x2="228.89" y2="554.20" stroke="#444" stroke-width="0.9"/>
<text x="228.89" y="561.30" font-size="7.6" text-anchor="middle" fill="#444" stroke="#444" stroke-width="0.22" textLength="9.05" lengthAdjust="spacingAndGlyphs">42</text>
<line x1="254.32" y1="551.60" x2="254.32" y2="554.20" stroke="#444" stroke-width="0.9"/>
<text x="254.32" y="561.30" font-size="7.6" text-anchor="middle" fill="#444" stroke="#444" stroke-width="0.22" textLength="9.05" lengthAdjust="spacingAndGlyphs">49</text>
<line x1="279.75" y1="551.60" x2="279.75" y2="554.20" stroke="#444" stroke-width="0.9"/>
<text x="279.75" y="561.30" font-size="7.6" text-anchor="middle" fill="#444" stroke="#444" stroke-width="0.22" textLength="9.05" lengthAdjust="spacingAndGlyphs">56</text>
<line x1="305.18" y1="551.60" x2="305.18" y2="554.20" stroke="#444" stroke-width="0.9"/>
<text x="305.18" y="561.30" font-size="7.6" text-anchor="middle" fill="#444" stroke="#444" stroke-width="0.22" textLength="9.05" lengthAdjust="spacingAndGlyphs">63</text>
<line x1="330.61" y1="551.60" x2="330.61" y2="554.20" stroke="#444" stroke-width="0.9"/>
<text x="330.61" y="561.30" font-size="7.6" text-anchor="middle" fill="#444" stroke="#444" stroke-width="0.22" textLength="9.05" lengthAdjust="spacingAndGlyphs">70</text>
<line x1="356.04" y1="551.60" x2="356.04" y2="554.20" stroke="#444" stroke-width="0.9"/>
<text x="356.04" y="561.30" font-size="7.6" text-anchor="middle" fill="#444" stroke="#444" stroke-width="0.22" textLength="9.05" lengthAdjust="spacingAndGlyphs">77</text>
<line x1="381.47" y1="551.60" x2="381.47" y2="554.20" stroke="#444" stroke-width="0.9"/>
<text x="381.47" y="561.30" font-size="7.6" text-anchor="middle" fill="#444" stroke="#444" stroke-width="0.22" textLength="9.05" lengthAdjust="spacingAndGlyphs">84</text>
<line x1="406.90" y1="551.60" x2="406.90" y2="554.20" stroke="#444" stroke-width="0.9"/>
<text x="406.90" y="561.30" font-size="7.6" text-anchor="middle" fill="#444" stroke="#444" stroke-width="0.22" textLength="9.05" lengthAdjust="spacingAndGlyphs">91</text>
<line x1="432.33" y1="551.60" x2="432.33" y2="554.20" stroke="#444" stroke-width="0.9"/>
<text x="432.33" y="561.30" font-size="7.6" text-anchor="middle" fill="#444" stroke="#444" stroke-width="0.22" textLength="9.05" lengthAdjust="spacingAndGlyphs">98</text>
<text x="208.40" y="572.00" font-size="9.4" text-anchor="start" fill="#222" stroke="#222" stroke-width="0.22" textLength="91.50" lengthAdjust="spacingAndGlyphs">Days Post-Infection</text>
<path d="M76.30,24.60 V21.20 H101.73 V24.60" fill="none" stroke="#333" stroke-width="0.9"/>
<text x="89.02" y="23.90" font-size="10" text-anchor="middle" fill="#222" stroke="#222" stroke-width="0.22">***</text>
<path d="M76.30,156.50 V153.40 H152.59 V156.50" fill="none" stroke="#333" stroke-width="0.9"/>
<text x="114.45" y="156.10" font-size="10" text-anchor="middle" fill="#222" stroke="#222" stroke-width="0.22">**</text>
<path d="M76.30,162.60 V158.70 H101.73 V162.60" fill="none" stroke="#333" stroke-width="0.9"/>
<text x="89.02" y="161.40" font-size="10" text-anchor="middle" fill="#222" stroke="#222" stroke-width="0.22">*</text>
<path d="M76.30,289.20 V285.90 H381.47 V289.20" fill="none" stroke="#333" stroke-width="0.9"/>
<text x="228.89" y="288.60" font-size="10" text-anchor="middle" fill="#222" stroke="#222" stroke-width="0.22">**</text>
<path d="M76.30,295.10 V291.80 H152.59 V295.10" fill="none" stroke="#333" stroke-width="0.9"/>
<text x="114.45" y="294.40" font-size="10" text-anchor="middle" fill="#222" stroke="#222" stroke-width="0.22">***</text>
<path d="M76.30,433.50 V429.80 H152.59 V433.50" fill="none" stroke="#333" stroke-width="0.9"/>
<text x="114.45" y="432.60" font-size="10" text-anchor="middle" fill="#222" stroke="#222" stroke-width="0.22">***</text>
<text transform="translate(32.70,304.80) scale(1.0,1) rotate(-90)" font-size="10.2" text-anchor="start" fill="#222" stroke="#222" stroke-width="0.22" textLength="53.60" lengthAdjust="spacingAndGlyphs">10^3 cells/μL</text>
<text x="6.30" y="13.90" font-size="9.8" text-anchor="start" fill="#333" stroke="#333" stroke-width="0.22" textLength="10.70" lengthAdjust="spacingAndGlyphs">A)</text>
<line x1="216.60" y1="594.90" x2="229.70" y2="594.90" stroke="#cfcfcf" stroke-width="1.0"/>
<circle cx="222.90" cy="594.90" r="1.8" fill="#b5b5ad"/>
<text x="236.90" y="597.30" font-size="8.2" text-anchor="start" fill="#222" stroke="#222" stroke-width="0.22" textLength="12.60" lengthAdjust="spacingAndGlyphs">AF-</text>
<line x1="257.30" y1="594.90" x2="270.70" y2="594.90" stroke="#eaa0ad" stroke-width="1.0"/>
<circle cx="263.90" cy="594.90" r="1.9" fill="#e0405a"/>
<text x="278.00" y="597.30" font-size="8.2" text-anchor="start" fill="#222" stroke="#222" stroke-width="0.22" textLength="14.80" lengthAdjust="spacingAndGlyphs">AF+</text>
<text x="495.30" y="30.90" font-size="10.4" text-anchor="start" fill="#333" stroke="#333" stroke-width="0.22" textLength="10.70" lengthAdjust="spacingAndGlyphs">C)</text>
<text x="543.50" y="31.30" font-size="14.2" text-anchor="start" fill="#222" textLength="136.70" lengthAdjust="spacingAndGlyphs">Maternal Plasma AUC</text>
<line x1="543.50" y1="33.00" x2="680.20" y2="33.00" stroke="#444" stroke-width="0.9"/>
<text x="573.40" y="48.40" font-size="14.2" text-anchor="start" fill="#222" textLength="80.30" lengthAdjust="spacingAndGlyphs">(Day 0-14 PI)</text>
<line x1="573.40" y1="51.30" x2="653.70" y2="51.30" stroke="#444" stroke-width="0.9"/>
<text x="589.90" y="91.80" font-size="13.2" text-anchor="start" fill="#111" font-weight="bold" textLength="63.70" lengthAdjust="spacingAndGlyphs">TNF-alpha</text>
<text x="605.00" y="115.70" font-size="11.6" text-anchor="start" fill="#111" textLength="53.20" lengthAdjust="spacingAndGlyphs">p = 0.0139</text>
<line x1="615.20" y1="123.90" x2="647.70" y2="123.90" stroke="#000" stroke-width="1.7"/>
<line x1="575.50" y1="109.30" x2="575.50" y2="241.30" stroke="#444" stroke-width="1.0"/>
<line x1="570.50" y1="109.30" x2="575.50" y2="109.30" stroke="#444" stroke-width="1.0"/>
<text x="567.60" y="113.20" font-size="10.6" text-anchor="end" fill="#111" font-weight="bold" textLength="17.69" lengthAdjust="spacingAndGlyphs">200</text>
<line x1="570.50" y1="142.30" x2="575.50" y2="142.30" stroke="#444" stroke-width="1.0"/>
<text x="567.60" y="146.20" font-size="10.6" text-anchor="end" fill="#111" font-weight="bold" textLength="17.69" lengthAdjust="spacingAndGlyphs">150</text>
<line x1="570.50" y1="175.30" x2="575.50" y2="175.30" stroke="#444" stroke-width="1.0"/>
<text x="567.60" y="179.20" font-size="10.6" text-anchor="end" fill="#111" font-weight="bold" textLength="17.69" lengthAdjust="spacingAndGlyphs">100</text>
<line x1="570.50" y1="208.30" x2="575.50" y2="208.30" stroke="#444" stroke-width="1.0"/>
<text x="567.60" y="212.20" font-size="10.6" text-anchor="end" fill="#111" font-weight="bold" textLength="11.79" lengthAdjust="spacingAndGlyphs">50</text>
<line x1="570.50" y1="241.30" x2="575.50" y2="241.30" stroke="#444" stroke-width="1.0"/>
<text x="567.60" y="245.20" font-size="10.6" text-anchor="end" fill="#111" font-weight="bold" textLength="5.90" lengthAdjust="spacingAndGlyphs">0</text>
<text transform="translate(541.90,193.60) scale(1.0,1) rotate(-90)" font-size="11.3" text-anchor="start" fill="#111" font-weight="bold" textLength="36.20" lengthAdjust="spacingAndGlyphs">pg/mL</text>
<line x1="595.00" y1="262.50" x2="668.20" y2="262.50" stroke="#444" stroke-width="1.0"/>
<line x1="615.40" y1="262.50" x2="615.40" y2="268.40" stroke="#444" stroke-width="1.0"/>
<line x1="647.20" y1="262.50" x2="647.20" y2="268.40" stroke="#444" stroke-width="1.0"/>
<text x="605.50" y="281.30" font-size="10.8" text-anchor="start" fill="#111" font-weight="bold" textLength="20.00" lengthAdjust="spacingAndGlyphs">AF+</text>
<text x="635.70" y="281.30" font-size="10.8" text-anchor="start" fill="#111" font-weight="bold" textLength="20.00" lengthAdjust="spacingAndGlyphs">AF–</text>
<line x1="615.50" y1="134.60" x2="615.50" y2="151.20" stroke="#d880ac" stroke-width="1.1"/>
<line x1="615.50" y1="208.10" x2="615.50" y2="220.00" stroke="#d880ac" stroke-width="1.1"/>
<line x1="610.50" y1="134.60" x2="620.70" y2="134.60" stroke="#d880ac" stroke-width="1.0"/>
<line x1="610.50" y1="220.00" x2="620.70" y2="220.00" stroke="#d880ac" stroke-width="1.0"/>
<rect x="605.50" y="151.20" width="20.20" height="56.90" fill="none" stroke="#d880ac" stroke-width="1.0"/>
<line x1="605.50" y1="182.50" x2="625.70" y2="182.50" stroke="#d880ac" stroke-width="1.0"/>
<circle cx="615.50" cy="134.60" r="2.7" fill="#e0226a"/>
<circle cx="615.50" cy="167.00" r="2.7" fill="#e0226a"/>
<circle cx="615.50" cy="197.70" r="2.7" fill="#e0226a"/>
<circle cx="615.50" cy="220.00" r="2.7" fill="#e0226a"/>
<circle cx="615.5" cy="182.5" r="2.7" fill="none" stroke="#e0226a" stroke-width="0.8"/>
<line x1="647.20" y1="193.00" x2="647.20" y2="212.20" stroke="#333" stroke-width="1.1"/>
<line x1="641.70" y1="193.00" x2="652.50" y2="193.00" stroke="#333" stroke-width="1.0"/>
<rect x="637.00" y="212.20" width="20.50" height="29.00" fill="none" stroke="#555" stroke-width="1.0"/>
<circle cx="647.20" cy="193.00" r="2.5" fill="#000"/>
<circle cx="647.20" cy="212.20" r="2.5" fill="#000"/>
<circle cx="647.20" cy="220.20" r="2.5" fill="#000"/>
<circle cx="638.50" cy="241.00" r="2.5" fill="#000"/>
<circle cx="644.20" cy="241.00" r="2.5" fill="#000"/>
<circle cx="649.80" cy="241.00" r="2.5" fill="#000"/>
<circle cx="655.60" cy="241.00" r="2.5" fill="#000"/>
<text x="7.00" y="650.80" font-size="10.4" text-anchor="start" fill="#333" stroke="#333" stroke-width="0.22" textLength="10.10" lengthAdjust="spacingAndGlyphs">B)</text>
<text x="181.60" y="633.30" font-size="12.6" text-anchor="start" fill="#111" font-weight="bold" textLength="187.00" lengthAdjust="spacingAndGlyphs">Rank of Medians over time</text>
<rect x="29.10" y="684.80" width="16.38" height="48.20" fill="#4a71ab" stroke="#999" stroke-width="0.7"/>
<rect x="29.10" y="733.00" width="16.38" height="48.20" fill="#c2e3ea" stroke="#999" stroke-width="0.7"/>
<rect x="29.10" y="781.20" width="16.38" height="48.20" fill="#d22f25" stroke="#999" stroke-width="0.7"/>
<rect x="29.10" y="829.40" width="16.38" height="48.20" fill="#e6ad6b" stroke="#999" stroke-width="0.7"/>
<rect x="29.10" y="877.60" width="16.38" height="48.20" fill="#f2f7c6" stroke="#999" stroke-width="0.7"/>
<rect x="45.48" y="684.80" width="16.38" height="48.20" fill="#c2e3ea" stroke="#999" stroke-width="0.7"/>
<rect x="45.48" y="733.00" width="16.38" height="48.20" fill="#4a71ab" stroke="#999" stroke-width="0.7"/>
<rect x="45.48" y="781.20" width="16.38" height="48.20" fill="#d22f25" stroke="#999" stroke-width="0.7"/>
<rect x="45.48" y="829.40" width="16.38" height="48.20" fill="#e6ad6b" stroke="#999" stroke-width="0.7"/>
<rect x="45.48" y="877.60" width="16.38" height="48.20" fill="#f2f7c6" stroke="#999" stroke-width="0.7"/>
<rect x="61.86" y="684.80" width="16.38" height="48.20" fill="#4a71ab" stroke="#999" stroke-width="0.7"/>
<rect x="61.86" y="733.00" width="16.38" height="48.20" fill="#4a71ab" stroke="#999" stroke-width="0.7"/>
<rect x="61.86" y="781.20" width="16.38" height="48.20" fill="#d22f25" stroke="#999" stroke-width="0.7"/>
<rect x="61.86" y="829.40" width="16.38" height="48.20" fill="#e6ad6b" stroke="#999" stroke-width="0.7"/>
<rect x="61.86" y="877.60" width="16.38" height="48.20" fill="#f2f7c6" stroke="#999" stroke-width="0.7"/>
<rect x="78.24" y="684.80" width="16.38" height="48.20" fill="#4a71ab" stroke="#999" stroke-width="0.7"/>
<rect x="78.24" y="733.00" width="16.38" height="48.20" fill="#4a71ab" stroke="#999" stroke-width="0.7"/>
<rect x="78.24" y="781.20" width="16.38" height="48.20" fill="#d22f25" stroke="#999" stroke-width="0.7"/>
<rect x="78.24" y="829.40" width="16.38" height="48.20" fill="#e6ad6b" stroke="#999" stroke-width="0.7"/>
<rect x="78.24" y="877.60" width="16.38" height="48.20" fill="#f2f7c6" stroke="#999" stroke-width="0.7"/>
<rect x="94.62" y="684.80" width="16.38" height="48.20" fill="#4a71ab" stroke="#999" stroke-width="0.7"/>
<rect x="94.62" y="733.00" width="16.38" height="48.20" fill="#4a71ab" stroke="#999" stroke-width="0.7"/>
<rect x="94.62" y="781.20" width="16.38" height="48.20" fill="#d22f25" stroke="#999" stroke-width="0.7"/>
<rect x="94.62" y="829.40" width="16.38" height="48.20" fill="#e6ad6b" stroke="#999" stroke-width="0.7"/>
<rect x="94.62" y="877.60" width="16.38" height="48.20" fill="#f2f7c6" stroke="#999" stroke-width="0.7"/>
<rect x="111.00" y="684.80" width="16.38" height="48.20" fill="#4a71ab" stroke="#999" stroke-width="0.7"/>
<rect x="111.00" y="733.00" width="16.38" height="48.20" fill="#4a71ab" stroke="#999" stroke-width="0.7"/>
<rect x="111.00" y="781.20" width="16.38" height="48.20" fill="#d22f25" stroke="#999" stroke-width="0.7"/>
<rect x="111.00" y="829.40" width="16.38" height="48.20" fill="#e6ad6b" stroke="#999" stroke-width="0.7"/>
<rect x="111.00" y="877.60" width="16.38" height="48.20" fill="#f2f7c6" stroke="#999" stroke-width="0.7"/>
<rect x="127.38" y="684.80" width="16.38" height="48.20" fill="#4a71ab" stroke="#999" stroke-width="0.7"/>
<rect x="127.38" y="733.00" width="16.38" height="48.20" fill="#c2e3ea" stroke="#999" stroke-width="0.7"/>
<rect x="127.38" y="781.20" width="16.38" height="48.20" fill="#e6ad6b" stroke="#999" stroke-width="0.7"/>
<rect x="127.38" y="829.40" width="16.38" height="48.20" fill="#d22f25" stroke="#999" stroke-width="0.7"/>
<rect x="127.38" y="877.60" width="16.38" height="48.20" fill="#f2f7c6" stroke="#999" stroke-width="0.7"/>
<rect x="143.76" y="684.80" width="16.38" height="48.20" fill="#c2e3ea" stroke="#999" stroke-width="0.7"/>
<rect x="143.76" y="733.00" width="16.38" height="48.20" fill="#4a71ab" stroke="#999" stroke-width="0.7"/>
<rect x="143.76" y="781.20" width="16.38" height="48.20" fill="#e6ad6b" stroke="#999" stroke-width="0.7"/>
<rect x="143.76" y="829.40" width="16.38" height="48.20" fill="#d22f25" stroke="#999" stroke-width="0.7"/>
<rect x="143.76" y="877.60" width="16.38" height="48.20" fill="#f2f7c6" stroke="#999" stroke-width="0.7"/>
<rect x="160.14" y="684.80" width="16.38" height="48.20" fill="#c2e3ea" stroke="#999" stroke-width="0.7"/>
<rect x="160.14" y="733.00" width="16.38" height="48.20" fill="#4a71ab" stroke="#999" stroke-width="0.7"/>
<rect x="160.14" y="781.20" width="16.38" height="48.20" fill="#e6ad6b" stroke="#999" stroke-width="0.7"/>
<rect x="160.14" y="829.40" width="16.38" height="48.20" fill="#d22f25" stroke="#999" stroke-width="0.7"/>
<rect x="160.14" y="877.60" width="16.38" height="48.20" fill="#f2f7c6" stroke="#999" stroke-width="0.7"/>
<rect x="176.52" y="684.80" width="16.38" height="48.20" fill="#c2e3ea" stroke="#999" stroke-width="0.7"/>
<rect x="176.52" y="733.00" width="16.38" height="48.20" fill="#f2f7c6" stroke="#999" stroke-width="0.7"/>
<rect x="176.52" y="781.20" width="16.38" height="48.20" fill="#d22f25" stroke="#999" stroke-width="0.7"/>
<rect x="176.52" y="829.40" width="16.38" height="48.20" fill="#e6ad6b" stroke="#999" stroke-width="0.7"/>
<rect x="176.52" y="877.60" width="16.38" height="48.20" fill="#4a71ab" stroke="#999" stroke-width="0.7"/>
<rect x="192.90" y="684.80" width="16.38" height="48.20" fill="#4a71ab" stroke="#999" stroke-width="0.7"/>
<rect x="192.90" y="733.00" width="16.38" height="48.20" fill="#4a71ab" stroke="#999" stroke-width="0.7"/>
<rect x="192.90" y="781.20" width="16.38" height="48.20" fill="#d22f25" stroke="#999" stroke-width="0.7"/>
<rect x="192.90" y="829.40" width="16.38" height="48.20" fill="#e6ad6b" stroke="#999" stroke-width="0.7"/>
<rect x="192.90" y="877.60" width="16.38" height="48.20" fill="#4a71ab" stroke="#999" stroke-width="0.7"/>
<rect x="209.28" y="684.80" width="16.38" height="48.20" fill="#4a71ab" stroke="#999" stroke-width="0.7"/>
<rect x="209.28" y="733.00" width="16.38" height="48.20" fill="#4a71ab" stroke="#999" stroke-width="0.7"/>
<rect x="209.28" y="781.20" width="16.38" height="48.20" fill="#d22f25" stroke="#999" stroke-width="0.7"/>
<rect x="209.28" y="829.40" width="16.38" height="48.20" fill="#e6ad6b" stroke="#999" stroke-width="0.7"/>
<rect x="209.28" y="877.60" width="16.38" height="48.20" fill="#4a71ab" stroke="#999" stroke-width="0.7"/>
<rect x="225.66" y="684.80" width="16.38" height="48.20" fill="#4a71ab" stroke="#999" stroke-width="0.7"/>
<rect x="225.66" y="733.00" width="16.38" height="48.20" fill="#4a71ab" stroke="#999" stroke-width="0.7"/>
<rect x="225.66" y="781.20" width="16.38" height="48.20" fill="#d22f25" stroke="#999" stroke-width="0.7"/>
<rect x="225.66" y="829.40" width="16.38" height="48.20" fill="#e6ad6b" stroke="#999" stroke-width="0.7"/>
<rect x="225.66" y="877.60" width="16.38" height="48.20" fill="#4a71ab" stroke="#999" stroke-width="0.7"/>
<rect x="242.04" y="684.80" width="16.38" height="48.20" fill="#4a71ab" stroke="#999" stroke-width="0.7"/>
<rect x="242.04" y="733.00" width="16.38" height="48.20" fill="#4a71ab" stroke="#999" stroke-width="0.7"/>
<rect x="242.04" y="781.20" width="16.38" height="48.20" fill="#4a71ab" stroke="#999" stroke-width="0.7"/>
<rect x="242.04" y="829.40" width="16.38" height="48.20" fill="#4a71ab" stroke="#999" stroke-width="0.7"/>
<rect x="242.04" y="877.60" width="16.38" height="48.20" fill="#4a71ab" stroke="#999" stroke-width="0.7"/>
<rect x="258.42" y="684.80" width="16.38" height="48.20" fill="#4a71ab" stroke="#999" stroke-width="0.7"/>
<rect x="258.42" y="733.00" width="16.38" height="48.20" fill="#4a71ab" stroke="#999" stroke-width="0.7"/>
<rect x="258.42" y="781.20" width="16.38" height="48.20" fill="#4a71ab" stroke="#999" stroke-width="0.7"/>
<rect x="258.42" y="829.40" width="16.38" height="48.20" fill="#4a71ab" stroke="#999" stroke-width="0.7"/>
<rect x="258.42" y="877.60" width="16.38" height="48.20" fill="#4a71ab" stroke="#999" stroke-width="0.7"/>
<rect x="274.80" y="684.80" width="16.38" height="48.20" fill="#4a71ab" stroke="#999" stroke-width="0.7"/>
<rect x="274.80" y="733.00" width="16.38" height="48.20" fill="#4a71ab" stroke="#999" stroke-width="0.7"/>
<rect x="274.80" y="781.20" width="16.38" height="48.20" fill="#4a71ab" stroke="#999" stroke-width="0.7"/>
<rect x="274.80" y="829.40" width="16.38" height="48.20" fill="#4a71ab" stroke="#999" stroke-width="0.7"/>
<rect x="274.80" y="877.60" width="16.38" height="48.20" fill="#4a71ab" stroke="#999" stroke-width="0.7"/>
<rect x="291.18" y="684.80" width="16.38" height="48.20" fill="#4a71ab" stroke="#999" stroke-width="0.7"/>
<rect x="291.18" y="733.00" width="16.38" height="48.20" fill="#4a71ab" stroke="#999" stroke-width="0.7"/>
<rect x="291.18" y="781.20" width="16.38" height="48.20" fill="#4a71ab" stroke="#999" stroke-width="0.7"/>
<rect x="291.18" y="829.40" width="16.38" height="48.20" fill="#4a71ab" stroke="#999" stroke-width="0.7"/>
<rect x="291.18" y="877.60" width="16.38" height="48.20" fill="#4a71ab" stroke="#999" stroke-width="0.7"/>
<rect x="307.56" y="684.80" width="16.38" height="48.20" fill="#4a71ab" stroke="#999" stroke-width="0.7"/>
<rect x="307.56" y="733.00" width="16.38" height="48.20" fill="#4a71ab" stroke="#999" stroke-width="0.7"/>
<rect x="307.56" y="781.20" width="16.38" height="48.20" fill="#4a71ab" stroke="#999" stroke-width="0.7"/>
<rect x="307.56" y="829.40" width="16.38" height="48.20" fill="#4a71ab" stroke="#999" stroke-width="0.7"/>
<rect x="307.56" y="877.60" width="16.38" height="48.20" fill="#4a71ab" stroke="#999" stroke-width="0.7"/>
<rect x="323.94" y="684.80" width="16.38" height="48.20" fill="#4a71ab" stroke="#999" stroke-width="0.7"/>
<rect x="323.94" y="733.00" width="16.38" height="48.20" fill="#4a71ab" stroke="#999" stroke-width="0.7"/>
<rect x="323.94" y="781.20" width="16.38" height="48.20" fill="#4a71ab" stroke="#999" stroke-width="0.7"/>
<rect x="323.94" y="829.40" width="16.38" height="48.20" fill="#4a71ab" stroke="#999" stroke-width="0.7"/>
<rect x="323.94" y="877.60" width="16.38" height="48.20" fill="#4a71ab" stroke="#999" stroke-width="0.7"/>
<rect x="340.32" y="684.80" width="16.38" height="48.20" fill="#4a71ab" stroke="#999" stroke-width="0.7"/>
<rect x="340.32" y="733.00" width="16.38" height="48.20" fill="#4a71ab" stroke="#999" stroke-width="0.7"/>
<rect x="340.32" y="781.20" width="16.38" height="48.20" fill="#4a71ab" stroke="#999" stroke-width="0.7"/>
<rect x="340.32" y="829.40" width="16.38" height="48.20" fill="#4a71ab" stroke="#999" stroke-width="0.7"/>
<rect x="340.32" y="877.60" width="16.38" height="48.20" fill="#4a71ab" stroke="#999" stroke-width="0.7"/>
<rect x="356.70" y="684.80" width="16.38" height="48.20" fill="#4a71ab" stroke="#999" stroke-width="0.7"/>
<rect x="356.70" y="733.00" width="16.38" height="48.20" fill="#4a71ab" stroke="#999" stroke-width="0.7"/>
<rect x="356.70" y="781.20" width="16.38" height="48.20" fill="#4a71ab" stroke="#999" stroke-width="0.7"/>
<rect x="356.70" y="829.40" width="16.38" height="48.20" fill="#4a71ab" stroke="#999" stroke-width="0.7"/>
<rect x="356.70" y="877.60" width="16.38" height="48.20" fill="#4a71ab" stroke="#999" stroke-width="0.7"/>
<rect x="373.08" y="684.80" width="16.38" height="48.20" fill="#f2f7c6" stroke="#999" stroke-width="0.7"/>
<rect x="373.08" y="733.00" width="16.38" height="48.20" fill="#4a71ab" stroke="#999" stroke-width="0.7"/>
<rect x="373.08" y="781.20" width="16.38" height="48.20" fill="#e6ad6b" stroke="#999" stroke-width="0.7"/>
<rect x="373.08" y="829.40" width="16.38" height="48.20" fill="#c2e3ea" stroke="#999" stroke-width="0.7"/>
<rect x="373.08" y="877.60" width="16.38" height="48.20" fill="#d22f25" stroke="#999" stroke-width="0.7"/>
<rect x="389.46" y="684.80" width="16.38" height="48.20" fill="#f2f7c6" stroke="#999" stroke-width="0.7"/>
<rect x="389.46" y="733.00" width="16.38" height="48.20" fill="#4a71ab" stroke="#999" stroke-width="0.7"/>
<rect x="389.46" y="781.20" width="16.38" height="48.20" fill="#d22f25" stroke="#999" stroke-width="0.7"/>
<rect x="389.46" y="829.40" width="16.38" height="48.20" fill="#c2e3ea" stroke="#999" stroke-width="0.7"/>
<rect x="389.46" y="877.60" width="16.38" height="48.20" fill="#e6ad6b" stroke="#999" stroke-width="0.7"/>
<rect x="405.84" y="684.80" width="16.38" height="48.20" fill="#c2e3ea" stroke="#999" stroke-width="0.7"/>
<rect x="405.84" y="733.00" width="16.38" height="48.20" fill="#4a71ab" stroke="#999" stroke-width="0.7"/>
<rect x="405.84" y="781.20" width="16.38" height="48.20" fill="#e6ad6b" stroke="#999" stroke-width="0.7"/>
<rect x="405.84" y="829.40" width="16.38" height="48.20" fill="#f2f7c6" stroke="#999" stroke-width="0.7"/>
<rect x="405.84" y="877.60" width="16.38" height="48.20" fill="#d22f25" stroke="#999" stroke-width="0.7"/>
<rect x="422.22" y="684.80" width="16.38" height="48.20" fill="#c2e3ea" stroke="#999" stroke-width="0.7"/>
<rect x="422.22" y="733.00" width="16.38" height="48.20" fill="#4a71ab" stroke="#999" stroke-width="0.7"/>
<rect x="422.22" y="781.20" width="16.38" height="48.20" fill="#d22f25" stroke="#999" stroke-width="0.7"/>
<rect x="422.22" y="829.40" width="16.38" height="48.20" fill="#f2f7c6" stroke="#999" stroke-width="0.7"/>
<rect x="422.22" y="877.60" width="16.38" height="48.20" fill="#e6ad6b" stroke="#999" stroke-width="0.7"/>
<rect x="438.60" y="684.80" width="16.38" height="48.20" fill="#c2e3ea" stroke="#999" stroke-width="0.7"/>
<rect x="438.60" y="733.00" width="16.38" height="48.20" fill="#4a71ab" stroke="#999" stroke-width="0.7"/>
<rect x="438.60" y="781.20" width="16.38" height="48.20" fill="#d22f25" stroke="#999" stroke-width="0.7"/>
<rect x="438.60" y="829.40" width="16.38" height="48.20" fill="#f2f7c6" stroke="#999" stroke-width="0.7"/>
<rect x="438.60" y="877.60" width="16.38" height="48.20" fill="#e6ad6b" stroke="#999" stroke-width="0.7"/>
<rect x="454.98" y="684.80" width="16.38" height="48.20" fill="#e6ad6b" stroke="#999" stroke-width="0.7"/>
<rect x="454.98" y="733.00" width="16.38" height="48.20" fill="#c2e3ea" stroke="#999" stroke-width="0.7"/>
<rect x="454.98" y="781.20" width="16.38" height="48.20" fill="#f2f7c6" stroke="#999" stroke-width="0.7"/>
<rect x="454.98" y="829.40" width="16.38" height="48.20" fill="#4a71ab" stroke="#999" stroke-width="0.7"/>
<rect x="454.98" y="877.60" width="16.38" height="48.20" fill="#d22f25" stroke="#999" stroke-width="0.7"/>
<rect x="471.36" y="684.80" width="16.38" height="48.20" fill="#e6ad6b" stroke="#999" stroke-width="0.7"/>
<rect x="471.36" y="733.00" width="16.38" height="48.20" fill="#4a71ab" stroke="#999" stroke-width="0.7"/>
<rect x="471.36" y="781.20" width="16.38" height="48.20" fill="#d22f25" stroke="#999" stroke-width="0.7"/>
<rect x="471.36" y="829.40" width="16.38" height="48.20" fill="#c2e3ea" stroke="#999" stroke-width="0.7"/>
<rect x="471.36" y="877.60" width="16.38" height="48.20" fill="#f2f7c6" stroke="#999" stroke-width="0.7"/>
<rect x="487.74" y="684.80" width="16.38" height="48.20" fill="#f2f7c6" stroke="#999" stroke-width="0.7"/>
<rect x="487.74" y="733.00" width="16.38" height="48.20" fill="#c2e3ea" stroke="#999" stroke-width="0.7"/>
<rect x="487.74" y="781.20" width="16.38" height="48.20" fill="#d22f25" stroke="#999" stroke-width="0.7"/>
<rect x="487.74" y="829.40" width="16.38" height="48.20" fill="#4a71ab" stroke="#999" stroke-width="0.7"/>
<rect x="487.74" y="877.60" width="16.38" height="48.20" fill="#e6ad6b" stroke="#999" stroke-width="0.7"/>
<rect x="504.12" y="684.80" width="16.38" height="48.20" fill="#e6ad6b" stroke="#999" stroke-width="0.7"/>
<rect x="504.12" y="733.00" width="16.38" height="48.20" fill="#c2e3ea" stroke="#999" stroke-width="0.7"/>
<rect x="504.12" y="781.20" width="16.38" height="48.20" fill="#d22f25" stroke="#999" stroke-width="0.7"/>
<rect x="504.12" y="829.40" width="16.38" height="48.20" fill="#4a71ab" stroke="#999" stroke-width="0.7"/>
<rect x="504.12" y="877.60" width="16.38" height="48.20" fill="#f2f7c6" stroke="#999" stroke-width="0.7"/>
<text transform="translate(33.45,929.00) scale(1.17,1) rotate(90)" font-size="9.0" text-anchor="start" fill="#1e1e1e" stroke="#1e1e1e" stroke-width="0.22">IP-10</text>
<text transform="translate(49.83,929.00) scale(1.17,1) rotate(90)" font-size="9.0" text-anchor="start" fill="#1e1e1e" stroke="#1e1e1e" stroke-width="0.22">CXCL2 / GRO beta</text>
<text transform="translate(66.21,929.00) scale(1.17,1) rotate(90)" font-size="9.0" text-anchor="start" fill="#1e1e1e" stroke="#1e1e1e" stroke-width="0.22">TNF-alpha</text>
<text transform="translate(82.59,929.00) scale(1.17,1) rotate(90)" font-size="9.0" text-anchor="start" fill="#1e1e1e" stroke="#1e1e1e" stroke-width="0.22">IL-6</text>
<text transform="translate(98.97,929.00) scale(1.17,1) rotate(90)" font-size="9.0" text-anchor="start" fill="#1e1e1e" stroke="#1e1e1e" stroke-width="0.22">GM-CSF</text>
<text transform="translate(115.35,929.00) scale(1.17,1) rotate(90)" font-size="9.0" text-anchor="start" fill="#1e1e1e" stroke="#1e1e1e" stroke-width="0.22">IL-10</text>
<text transform="translate(131.73,929.00) scale(1.17,1) rotate(90)" font-size="9.0" text-anchor="start" fill="#1e1e1e" stroke="#1e1e1e" stroke-width="0.22">PD-L1</text>
<text transform="translate(148.11,929.00) scale(1.17,1) rotate(90)" font-size="9.0" text-anchor="start" fill="#1e1e1e" stroke="#1e1e1e" stroke-width="0.22">PDGF-AA</text>
<text transform="translate(164.49,929.00) scale(1.17,1) rotate(90)" font-size="9.0" text-anchor="start" fill="#1e1e1e" stroke="#1e1e1e" stroke-width="0.22">VEGF</text>
<text transform="translate(180.87,929.00) scale(1.17,1) rotate(90)" font-size="9.0" text-anchor="start" fill="#1e1e1e" stroke="#1e1e1e" stroke-width="0.22">IL-15</text>
<text transform="translate(197.25,929.00) scale(1.17,1) rotate(90)" font-size="9.0" text-anchor="start" fill="#1e1e1e" stroke="#1e1e1e" stroke-width="0.22">IFN-gamma</text>
<text transform="translate(213.63,929.00) scale(1.17,1) rotate(90)" font-size="9.0" text-anchor="start" fill="#1e1e1e" stroke="#1e1e1e" stroke-width="0.22">I-TAC</text>
<text transform="translate(230.01,929.00) scale(1.17,1) rotate(90)" font-size="9.0" text-anchor="start" fill="#1e1e1e" stroke="#1e1e1e" stroke-width="0.22">IFN-alpha</text>
<text transform="translate(246.39,929.00) scale(1.17,1) rotate(90)" font-size="9.0" text-anchor="start" fill="#1e1e1e" stroke="#1e1e1e" stroke-width="0.22">IL-4</text>
<text transform="translate(262.77,929.00) scale(1.17,1) rotate(90)" font-size="9.0" text-anchor="start" fill="#1e1e1e" stroke="#1e1e1e" stroke-width="0.22">IL-21</text>
<text transform="translate(279.15,929.00) scale(1.17,1) rotate(90)" font-size="9.0" text-anchor="start" fill="#1e1e1e" stroke="#1e1e1e" stroke-width="0.22">IL-17 / IL-17A</text>
<text transform="translate(295.53,929.00) scale(1.17,1) rotate(90)" font-size="9.0" text-anchor="start" fill="#1e1e1e" stroke="#1e1e1e" stroke-width="0.22">IL-13</text>
<text transform="translate(311.91,929.00) scale(1.17,1) rotate(90)" font-size="9.0" text-anchor="start" fill="#1e1e1e" stroke="#1e1e1e" stroke-width="0.22">IL-12 p70</text>
<text transform="translate(328.29,929.00) scale(1.17,1) rotate(90)" font-size="9.0" text-anchor="start" fill="#1e1e1e" stroke="#1e1e1e" stroke-width="0.22">IFN-beta</text>
<text transform="translate(344.67,929.00) scale(1.17,1) rotate(90)" font-size="9.0" text-anchor="start" fill="#1e1e1e" stroke="#1e1e1e" stroke-width="0.22">CXCL13 / BLC</text>
<text transform="translate(361.05,929.00) scale(1.17,1) rotate(90)" font-size="9.0" text-anchor="start" fill="#1e1e1e" stroke="#1e1e1e" stroke-width="0.22">G-CSF</text>
<text transform="translate(377.43,929.00) scale(1.17,1) rotate(90)" font-size="9.0" text-anchor="start" fill="#1e1e1e" stroke="#1e1e1e" stroke-width="0.22">BDNF</text>
<text transform="translate(393.81,929.00) scale(1.17,1) rotate(90)" font-size="9.0" text-anchor="start" fill="#1e1e1e" stroke="#1e1e1e" stroke-width="0.22">CD40 Ligand</text>
<text transform="translate(410.19,929.00) scale(1.17,1) rotate(90)" font-size="9.0" text-anchor="start" fill="#1e1e1e" stroke="#1e1e1e" stroke-width="0.22">MIP-3 alpha</text>
<text transform="translate(426.57,929.00) scale(1.17,1) rotate(90)" font-size="9.0" text-anchor="start" fill="#1e1e1e" stroke="#1e1e1e" stroke-width="0.22">Eotaxin</text>
<text transform="translate(442.95,929.00) scale(1.17,1) rotate(90)" font-size="9.0" text-anchor="start" fill="#1e1e1e" stroke="#1e1e1e" stroke-width="0.22">Granzyme B</text>
<text transform="translate(459.33,929.00) scale(1.17,1) rotate(90)" font-size="9.0" text-anchor="start" fill="#1e1e1e" stroke="#1e1e1e" stroke-width="0.22">PDGF-BB</text>
<text transform="translate(475.71,929.00) scale(1.17,1) rotate(90)" font-size="9.0" text-anchor="start" fill="#1e1e1e" stroke="#1e1e1e" stroke-width="0.22">IL-7</text>
<text transform="translate(492.09,929.00) scale(1.17,1) rotate(90)" font-size="9.0" text-anchor="start" fill="#1e1e1e" stroke="#1e1e1e" stroke-width="0.22">IL-2</text>
<text transform="translate(508.47,929.00) scale(1.17,1) rotate(90)" font-size="9.0" text-anchor="start" fill="#1e1e1e" stroke="#1e1e1e" stroke-width="0.22">IL-8</text>
<text x="523.60" y="712.90" font-size="9.1" text-anchor="start" fill="#1a1a1a" stroke="#1a1a1a" stroke-width="0.22" textLength="29.00" lengthAdjust="spacingAndGlyphs">Day 0</text>
<text x="523.60" y="761.10" font-size="9.1" text-anchor="start" fill="#1a1a1a" stroke="#1a1a1a" stroke-width="0.22" textLength="29.00" lengthAdjust="spacingAndGlyphs">Day 1</text>
<text x="523.60" y="809.30" font-size="9.1" text-anchor="start" fill="#1a1a1a" stroke="#1a1a1a" stroke-width="0.22" textLength="29.00" lengthAdjust="spacingAndGlyphs">Day 4</text>
<text x="523.60" y="857.50" font-size="9.1" text-anchor="start" fill="#1a1a1a" stroke="#1a1a1a" stroke-width="0.22" textLength="29.00" lengthAdjust="spacingAndGlyphs">Day 7</text>
<text x="523.60" y="905.70" font-size="9.1" text-anchor="start" fill="#1a1a1a" stroke="#1a1a1a" stroke-width="0.22" textLength="35.18" lengthAdjust="spacingAndGlyphs">Day 14</text>
<path d="M150.5,660.3 V637.2 H354.5 V643.2 M100.7,669.4 V660.3 H199.6 V667.7 M53.5,673.6 V669.4 H148.4 V674.0 M37.6,684.4 V673.6 H69.4 V677.3 M54.3,684.4 V677.3 H84.5 V684.4 M135.8,684.4 V674.0 H160.3 V684.4 M184.8,684.4 V667.7 H213.6 V684.4 M266.4,684.4 V643.2 H442.6 V656.1 M407.7,669.7 V656.1 H477.6 V661.0 M389.3,674.4 V669.7 H426.3 V674.4 M381.2,684.4 V674.4 H397.6 V684.4 M414.0,684.4 V674.4 H438.5 V684.4 M463.1,684.4 V661.0 H491.6 V670.2 M479.5,684.4 V670.2 H504.0 V674.7 M495.8,684.4 V674.7 H512.2 V684.4" fill="none" stroke="#333" stroke-width="0.95"/>
<text x="592.20" y="714.80" font-size="12.8" text-anchor="start" fill="#222" textLength="31.00" lengthAdjust="spacingAndGlyphs">Rank</text>
<line x1="592.20" y1="716.90" x2="623.10" y2="716.90" stroke="#444" stroke-width="0.9"/>
<defs><linearGradient id="rk" x1="0" y1="1" x2="0" y2="0">
<stop offset="0" stop-color="#4d72ad"/><stop offset="0.12" stop-color="#7b9cc4"/><stop offset="0.25" stop-color="#aac9dc"/>
<stop offset="0.375" stop-color="#e6f3f1"/><stop offset="0.5" stop-color="#f5f8c4"/><stop offset="0.62" stop-color="#efe08c"/>
<stop offset="0.75" stop-color="#e8ad6a"/><stop offset="0.87" stop-color="#df6f4c"/><stop offset="1" stop-color="#d4352c"/>
</linearGradient></defs>
<rect x="601.00" y="733.70" width="12.30" height="141.10" fill="url(#rk)" stroke="none" stroke-width="1"/>
<text x="618.60" y="878.90" font-size="9.6" text-anchor="start" fill="#222" font-weight="bold" textLength="5.34" lengthAdjust="spacingAndGlyphs">1</text>
<text x="618.60" y="843.75" font-size="9.6" text-anchor="start" fill="#222" font-weight="bold" textLength="5.34" lengthAdjust="spacingAndGlyphs">2</text>
<text x="618.60" y="808.60" font-size="9.6" text-anchor="start" fill="#222" font-weight="bold" textLength="5.34" lengthAdjust="spacingAndGlyphs">3</text>
<text x="618.60" y="773.45" font-size="9.6" text-anchor="start" fill="#222" font-weight="bold" textLength="5.34" lengthAdjust="spacingAndGlyphs">4</text>
<text x="618.60" y="738.30" font-size="9.6" text-anchor="start" fill="#222" font-weight="bold" textLength="5.34" lengthAdjust="spacingAndGlyphs">5</text>
<rect x="0.5" y="0.5" width="684" height="1009" fill="none" stroke="#000" stroke-width="1.3"/>
</svg>
</body></html>
